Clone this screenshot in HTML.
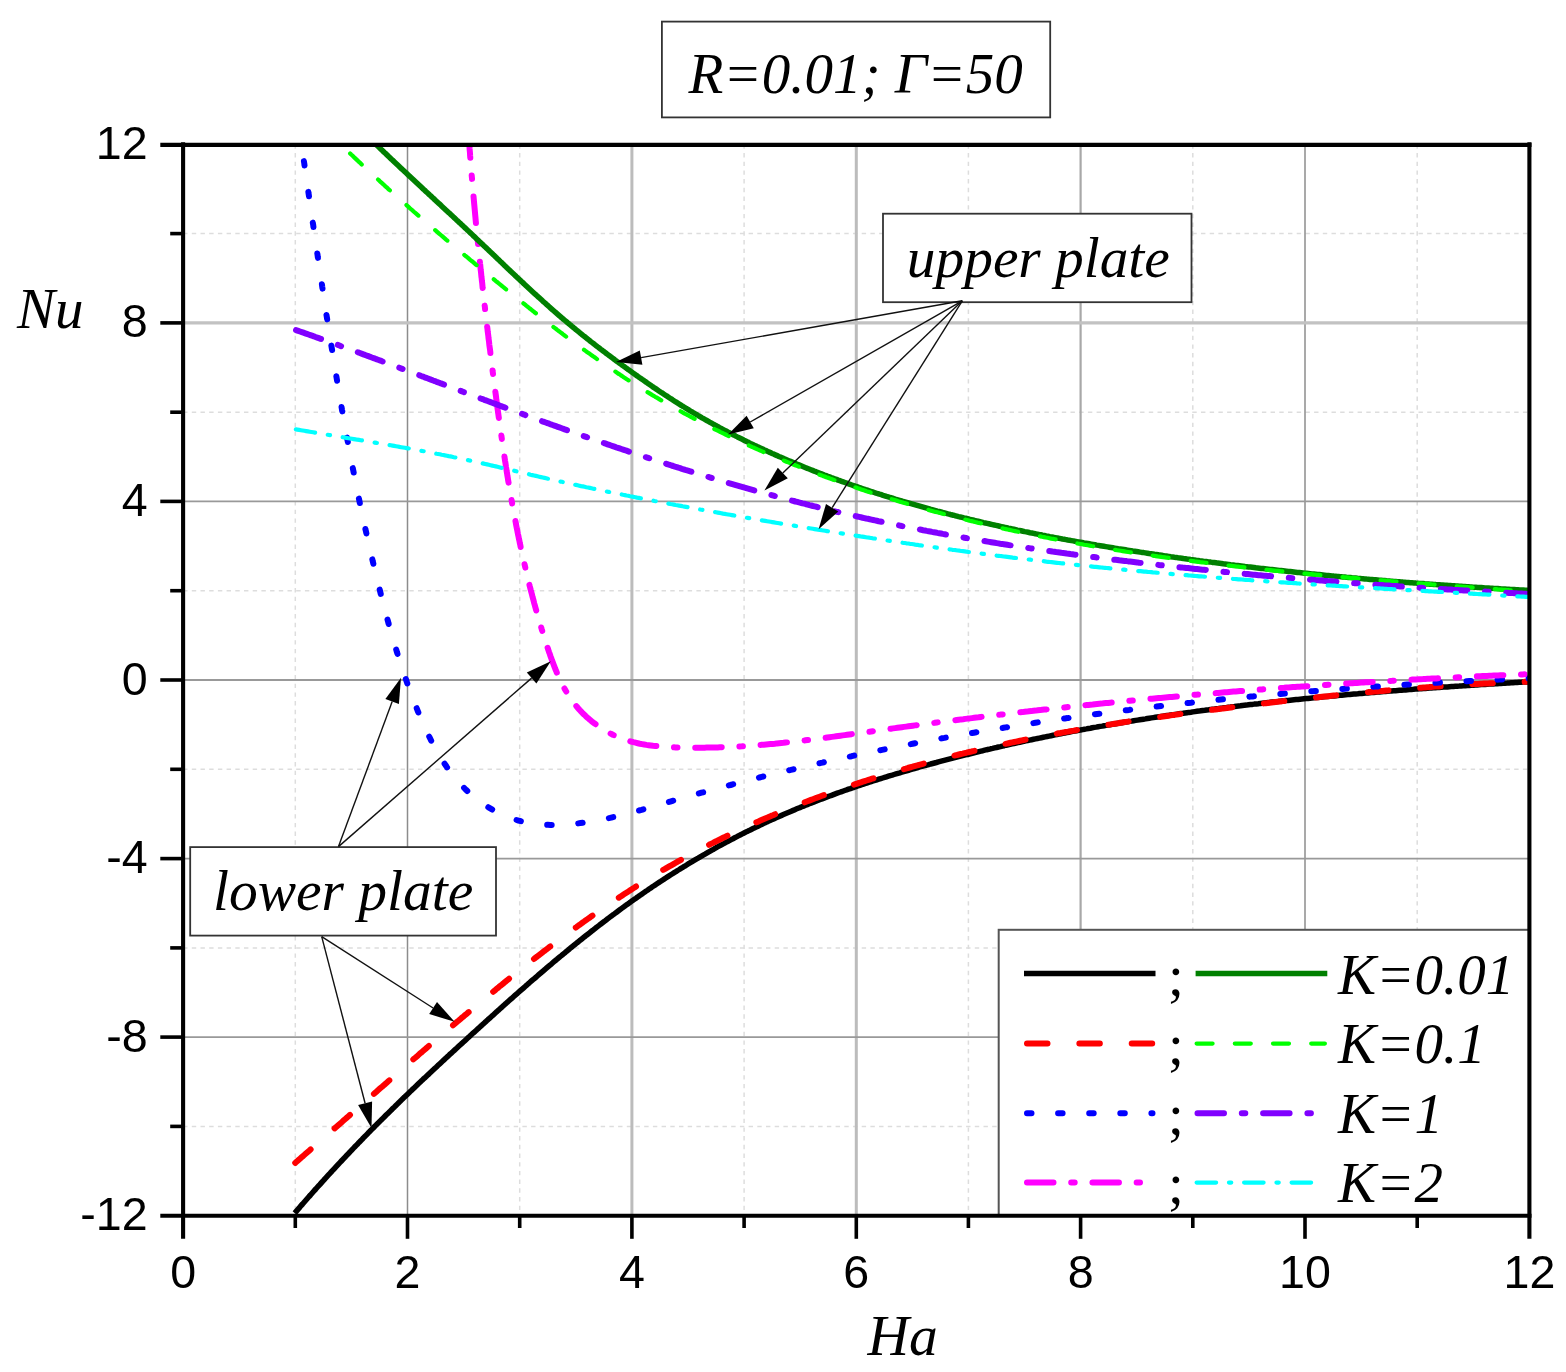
<!DOCTYPE html><html><head><meta charset="utf-8"><title>Nu vs Ha</title><style>html,body{margin:0;padding:0;background:#fff}svg{display:block}text{font-family:"Liberation Sans",sans-serif;fill:#000}.it{font-family:"Liberation Serif",serif;font-style:italic}.rm{font-family:"Liberation Serif",serif}</style></head><body>
<svg width="1566" height="1372" viewBox="0 0 1566 1372">
<rect width="100%" height="100%" fill="#fff"/>
<g stroke="#dddddd" stroke-width="1.5" stroke-dasharray="4.4 4.3"><line x1="295.3" y1="144.3" x2="295.3" y2="1215.7"/><line x1="519.7" y1="144.3" x2="519.7" y2="1215.7"/><line x1="744.1" y1="144.3" x2="744.1" y2="1215.7"/><line x1="968.4" y1="144.3" x2="968.4" y2="1215.7"/><line x1="1192.8" y1="144.3" x2="1192.8" y2="1215.7"/><line x1="1417.2" y1="144.3" x2="1417.2" y2="1215.7"/><line x1="183.1" y1="1126.4" x2="1529.4" y2="1126.4"/><line x1="183.1" y1="947.9" x2="1529.4" y2="947.9"/><line x1="183.1" y1="769.3" x2="1529.4" y2="769.3"/><line x1="183.1" y1="590.7" x2="1529.4" y2="590.7"/><line x1="183.1" y1="412.2" x2="1529.4" y2="412.2"/><line x1="183.1" y1="233.6" x2="1529.4" y2="233.6"/></g>
<g><line x1="407.5" y1="144.3" x2="407.5" y2="1215.7" stroke="#8c8c8c" stroke-width="1.5"/><line x1="631.9" y1="144.3" x2="631.9" y2="1215.7" stroke="#bcbcbc" stroke-width="3.0"/><line x1="856.3" y1="144.3" x2="856.3" y2="1215.7" stroke="#bcbcbc" stroke-width="3.0"/><line x1="1080.6" y1="144.3" x2="1080.6" y2="1215.7" stroke="#a8a8a8" stroke-width="2.2"/><line x1="1305.0" y1="144.3" x2="1305.0" y2="1215.7" stroke="#8c8c8c" stroke-width="1.5"/><line x1="183.1" y1="1037.1" x2="1529.4" y2="1037.1" stroke="#999" stroke-width="1.8"/><line x1="183.1" y1="858.6" x2="1529.4" y2="858.6" stroke="#999" stroke-width="1.8"/><line x1="183.1" y1="680.0" x2="1529.4" y2="680.0" stroke="#999" stroke-width="1.8"/><line x1="183.1" y1="501.4" x2="1529.4" y2="501.4" stroke="#999" stroke-width="1.8"/><line x1="183.1" y1="322.9" x2="1529.4" y2="322.9" stroke="#c2c2c2" stroke-width="3.4"/></g>
<clipPath id="pc"><rect x="183.1" y="144.3" width="1346.3" height="1071.4"/></clipPath>
<g fill="none" stroke-linejoin="round" clip-path="url(#pc)">
<path d="M294.7,1213.1 L296.0,1211.6 L297.3,1210.1 L298.6,1208.6 L299.9,1207.1 L301.2,1205.5 L302.6,1204.0 L303.9,1202.5 L305.2,1201.0 L306.5,1199.5 L307.8,1198.0 L309.1,1196.5 L310.5,1195.0 L311.8,1193.5 L313.1,1192.0 L314.4,1190.5 L315.8,1189.0 L317.1,1187.5 L318.4,1186.0 L319.8,1184.6 L321.1,1183.1 L322.4,1181.6 L323.8,1180.1 L325.1,1178.6 L326.5,1177.1 L327.8,1175.7 L329.2,1174.2 L330.5,1172.7 L331.9,1171.3 L333.2,1169.8 L334.6,1168.3 L335.9,1166.9 L337.3,1165.4 L338.7,1163.9 L340.0,1162.5 L341.4,1161.0 L342.7,1159.6 L344.1,1158.1 L345.5,1156.7 L346.9,1155.2 L348.2,1153.8 L349.6,1152.3 L351.0,1150.9 L352.4,1149.4 L353.7,1148.0 L355.1,1146.5 L356.5,1145.1 L357.9,1143.7 L359.3,1142.2 L360.7,1140.8 L362.1,1139.4 L363.4,1137.9 L364.8,1136.5 L366.2,1135.1 L367.6,1133.7 L369.0,1132.2 L370.4,1130.8 L371.8,1129.4 L373.2,1128.0 L374.6,1126.5 L376.0,1125.1 L377.4,1123.7 L378.9,1122.3 L380.3,1120.9 L381.7,1119.5 L383.1,1118.1 L384.5,1116.7 L385.9,1115.3 L387.3,1113.9 L388.8,1112.5 L390.2,1111.1 L391.6,1109.7 L393.0,1108.3 L394.5,1106.9 L395.9,1105.5 L397.3,1104.1 L398.7,1102.7 L400.2,1101.3 L401.6,1099.9 L403.0,1098.5 L404.5,1097.1 L405.9,1095.7 L407.3,1094.4 L408.8,1093.0 L410.2,1091.6 L411.7,1090.2 L413.1,1088.8 L414.6,1087.5 L416.0,1086.1 L417.4,1084.7 L418.9,1083.3 L420.3,1082.0 L421.8,1080.6 L423.2,1079.2 L424.7,1077.9 L426.2,1076.5 L427.6,1075.1 L429.1,1073.8 L430.5,1072.4 L432.0,1071.0 L433.4,1069.7 L434.9,1068.3 L436.4,1067.0 L437.8,1065.6 L439.3,1064.2 L440.7,1062.9 L442.2,1061.5 L443.7,1060.2 L445.1,1058.8 L446.6,1057.4 L448.1,1056.1 L449.5,1054.7 L451.0,1053.4 L452.5,1052.0 L454.0,1050.7 L455.4,1049.3 L456.9,1048.0 L458.4,1046.6 L459.8,1045.3 L461.3,1043.9 L462.8,1042.6 L464.3,1041.2 L465.7,1039.9 L467.2,1038.5 L468.7,1037.2 L470.2,1035.8 L471.6,1034.5 L473.1,1033.1 L474.6,1031.8 L476.1,1030.5 L477.5,1029.1 L479.0,1027.8 L480.5,1026.4 L482.0,1025.1 L483.5,1023.7 L484.9,1022.4 L486.4,1021.1 L487.9,1019.7 L489.4,1018.4 L490.9,1017.0 L492.4,1015.7 L493.8,1014.4 L495.3,1013.0 L496.8,1011.7 L498.3,1010.3 L499.8,1009.0 L501.3,1007.7 L502.8,1006.3 L504.2,1005.0 L505.7,1003.7 L507.2,1002.3 L508.7,1001.0 L510.2,999.7 L511.7,998.4 L513.2,997.0 L514.7,995.7 L516.2,994.4 L517.7,993.1 L519.2,991.7 L520.7,990.4 L522.2,989.1 L523.7,987.8 L525.2,986.5 L526.7,985.2 L528.2,983.8 L529.7,982.5 L531.2,981.2 L532.7,979.9 L534.3,978.6 L535.8,977.3 L537.3,976.0 L538.8,974.7 L540.3,973.4 L541.8,972.1 L543.3,970.8 L544.9,969.5 L546.4,968.2 L547.9,966.9 L549.4,965.6 L551.0,964.3 L552.5,963.0 L554.0,961.7 L555.5,960.5 L557.1,959.2 L558.6,957.9 L560.1,956.6 L561.7,955.4 L563.2,954.1 L564.8,952.8 L566.3,951.5 L567.8,950.3 L569.4,949.0 L570.9,947.7 L572.5,946.5 L574.0,945.2 L575.6,944.0 L577.1,942.7 L578.7,941.5 L580.2,940.2 L581.8,939.0 L583.4,937.7 L584.9,936.5 L586.5,935.2 L588.1,934.0 L589.6,932.8 L591.2,931.5 L592.8,930.3 L594.3,929.1 L595.9,927.8 L597.5,926.6 L599.1,925.4 L600.6,924.2 L602.2,923.0 L603.8,921.8 L605.4,920.6 L607.0,919.3 L608.6,918.1 L610.2,916.9 L611.8,915.7 L613.4,914.6 L615.0,913.4 L616.6,912.2 L618.2,911.0 L619.8,909.8 L621.4,908.6 L623.0,907.4 L624.6,906.3 L626.2,905.1 L627.9,903.9 L629.5,902.8 L631.1,901.6 L632.7,900.5 L634.4,899.3 L636.0,898.2 L637.6,897.0 L639.3,895.9 L640.9,894.7 L642.6,893.6 L644.2,892.4 L645.8,891.3 L647.5,890.2 L649.1,889.1 L650.8,887.9 L652.4,886.8 L654.1,885.7 L655.8,884.6 L657.4,883.5 L659.1,882.4 L660.8,881.3 L662.4,880.2 L664.1,879.1 L665.8,878.0 L667.5,876.9 L669.1,875.9 L670.8,874.8 L672.5,873.7 L674.2,872.6 L675.9,871.6 L677.6,870.5 L679.3,869.5 L681.0,868.4 L682.7,867.4 L684.4,866.3 L686.1,865.3 L687.8,864.2 L689.5,863.2 L691.2,862.2 L692.9,861.1 L694.6,860.1 L696.3,859.1 L698.1,858.1 L699.8,857.1 L701.5,856.1 L703.2,855.1 L705.0,854.1 L706.7,853.1 L708.4,852.1 L710.2,851.1 L711.9,850.1 L713.7,849.2 L715.4,848.2 L717.1,847.2 L718.9,846.2 L720.6,845.3 L722.4,844.3 L724.2,843.4 L725.9,842.4 L727.7,841.5 L729.4,840.6 L731.2,839.6 L733.0,838.7 L734.7,837.8 L736.5,836.9 L738.3,835.9 L740.1,835.0 L741.8,834.1 L743.6,833.2 L745.4,832.3 L747.2,831.4 L749.0,830.6 L750.8,829.7 L752.6,828.8 L754.4,827.9 L756.2,827.1 L758.0,826.2 L759.8,825.3 L761.6,824.5 L763.4,823.6 L765.2,822.8 L767.0,821.9 L768.8,821.1 L770.6,820.3 L772.4,819.4 L774.3,818.6 L776.1,817.8 L777.9,817.0 L779.7,816.2 L781.6,815.4 L783.4,814.6 L785.2,813.8 L787.0,813.0 L788.9,812.2 L790.7,811.4 L792.6,810.6 L794.4,809.9 L796.2,809.1 L798.1,808.3 L799.9,807.6 L801.8,806.8 L803.6,806.1 L805.5,805.3 L807.3,804.6 L809.2,803.8 L811.0,803.1 L812.9,802.4 L814.8,801.6 L816.6,800.9 L818.5,800.2 L820.3,799.5 L822.2,798.8 L824.1,798.1 L825.9,797.4 L827.8,796.7 L829.7,796.0 L831.6,795.3 L833.4,794.6 L835.3,793.9 L837.2,793.2 L839.1,792.5 L841.0,791.9 L842.8,791.2 L844.7,790.5 L846.6,789.9 L848.5,789.2 L850.4,788.6 L852.3,787.9 L854.2,787.3 L856.0,786.6 L857.9,786.0 L859.8,785.4 L861.7,784.7 L863.6,784.1 L865.5,783.5 L867.4,782.8 L869.3,782.2 L871.2,781.6 L873.1,781.0 L875.0,780.4 L876.9,779.8 L878.8,779.2 L880.8,778.6 L882.7,778.0 L884.6,777.4 L886.5,776.8 L888.4,776.2 L890.3,775.6 L892.2,775.1 L894.1,774.5 L896.0,773.9 L898.0,773.3 L899.9,772.8 L901.8,772.2 L903.7,771.6 L905.6,771.1 L907.6,770.5 L909.5,770.0 L911.4,769.4 L913.3,768.9 L915.2,768.3 L917.2,767.8 L919.1,767.2 L921.0,766.7 L922.9,766.1 L924.9,765.6 L926.8,765.1 L928.7,764.6 L930.6,764.0 L932.6,763.5 L934.5,763.0 L936.4,762.5 L938.4,761.9 L940.3,761.4 L942.2,760.9 L944.2,760.4 L946.1,759.9 L948.0,759.4 L950.0,758.9 L951.9,758.4 L953.8,757.9 L955.8,757.4 L957.7,756.9 L959.6,756.4 L961.6,755.9 L963.5,755.4 L965.4,754.9 L967.4,754.5 L969.3,754.0 L971.3,753.5 L973.2,753.0 L975.1,752.5 L977.1,752.1 L979.0,751.6 L981.0,751.1 L982.9,750.7 L984.8,750.2 L986.8,749.7 L988.7,749.3 L990.7,748.8 L992.6,748.4 L994.6,747.9 L996.5,747.5 L998.5,747.0 L1000.4,746.6 L1002.4,746.1 L1004.3,745.7 L1006.2,745.2 L1008.2,744.8 L1010.1,744.4 L1012.1,743.9 L1014.0,743.5 L1016.0,743.1 L1017.9,742.6 L1019.9,742.2 L1021.8,741.8 L1023.8,741.4 L1025.7,740.9 L1027.7,740.5 L1029.6,740.1 L1031.6,739.7 L1033.5,739.3 L1035.5,738.9 L1037.5,738.5 L1039.4,738.1 L1041.4,737.7 L1043.3,737.3 L1045.3,736.9 L1047.2,736.5 L1049.2,736.1 L1051.1,735.7 L1053.1,735.3 L1055.1,734.9 L1057.0,734.5 L1059.0,734.1 L1060.9,733.7 L1062.9,733.3 L1064.8,733.0 L1066.8,732.6 L1068.8,732.2 L1070.7,731.8 L1072.7,731.4 L1074.7,731.1 L1076.6,730.7 L1078.6,730.3 L1080.5,730.0 L1082.5,729.6 L1084.5,729.2 L1086.4,728.9 L1088.4,728.5 L1090.4,728.2 L1092.3,727.8 L1094.3,727.4 L1096.2,727.1 L1098.2,726.7 L1100.2,726.4 L1102.1,726.1 L1104.1,725.7 L1106.1,725.4 L1108.0,725.0 L1110.0,724.7 L1112.0,724.3 L1113.9,724.0 L1115.9,723.7 L1117.9,723.3 L1119.8,723.0 L1121.8,722.7 L1123.8,722.3 L1125.8,722.0 L1127.7,721.7 L1129.7,721.4 L1131.7,721.1 L1133.6,720.7 L1135.6,720.4 L1137.6,720.1 L1139.6,719.8 L1141.5,719.5 L1143.5,719.2 L1145.5,718.9 L1147.4,718.5 L1149.4,718.2 L1151.4,717.9 L1153.4,717.6 L1155.3,717.3 L1157.3,717.0 L1159.3,716.7 L1161.3,716.4 L1163.2,716.1 L1165.2,715.8 L1167.2,715.5 L1169.2,715.3 L1171.1,715.0 L1173.1,714.7 L1175.1,714.4 L1177.1,714.1 L1179.0,713.8 L1181.0,713.5 L1183.0,713.3 L1185.0,713.0 L1187.0,712.7 L1188.9,712.4 L1190.9,712.2 L1192.9,711.9 L1194.9,711.6 L1196.9,711.3 L1198.8,711.1 L1200.8,710.8 L1202.8,710.5 L1204.8,710.3 L1206.8,710.0 L1208.7,709.8 L1210.7,709.5 L1212.7,709.2 L1214.7,709.0 L1216.7,708.7 L1218.6,708.5 L1220.6,708.2 L1222.6,708.0 L1224.6,707.7 L1226.6,707.5 L1228.6,707.2 L1230.5,707.0 L1232.5,706.7 L1234.5,706.5 L1236.5,706.2 L1238.5,706.0 L1240.5,705.8 L1242.4,705.5 L1244.4,705.3 L1246.4,705.1 L1248.4,704.8 L1250.4,704.6 L1252.4,704.4 L1254.3,704.1 L1256.3,703.9 L1258.3,703.7 L1260.3,703.4 L1262.3,703.2 L1264.3,703.0 L1266.3,702.8 L1268.2,702.6 L1270.2,702.3 L1272.2,702.1 L1274.2,701.9 L1276.2,701.7 L1278.2,701.5 L1280.2,701.2 L1282.2,701.0 L1284.1,700.8 L1286.1,700.6 L1288.1,700.4 L1290.1,700.2 L1292.1,700.0 L1294.1,699.8 L1296.1,699.6 L1298.1,699.4 L1300.0,699.2 L1302.0,699.0 L1304.0,698.8 L1306.0,698.6 L1308.0,698.4 L1310.0,698.2 L1312.0,698.0 L1314.0,697.8 L1316.0,697.6 L1317.9,697.4 L1319.9,697.2 L1321.9,697.0 L1323.9,696.8 L1325.9,696.6 L1327.9,696.4 L1329.9,696.3 L1331.9,696.1 L1333.9,695.9 L1335.9,695.7 L1337.8,695.5 L1339.8,695.3 L1341.8,695.2 L1343.8,695.0 L1345.8,694.8 L1347.8,694.6 L1349.8,694.5 L1351.8,694.3 L1353.8,694.1 L1355.8,693.9 L1357.8,693.8 L1359.7,693.6 L1361.7,693.4 L1363.7,693.2 L1365.7,693.1 L1367.7,692.9 L1369.7,692.7 L1371.7,692.6 L1373.7,692.4 L1375.7,692.2 L1377.7,692.1 L1379.7,691.9 L1381.7,691.8 L1383.6,691.6 L1385.6,691.4 L1387.6,691.3 L1389.6,691.1 L1391.6,691.0 L1393.6,690.8 L1395.6,690.7 L1397.6,690.5 L1399.6,690.3 L1401.6,690.2 L1403.6,690.0 L1405.6,689.9 L1407.5,689.7 L1409.5,689.6 L1411.5,689.4 L1413.5,689.3 L1415.5,689.1 L1417.5,689.0 L1419.5,688.8 L1421.5,688.7 L1423.5,688.6 L1425.5,688.4 L1427.5,688.3 L1429.5,688.1 L1431.5,688.0 L1433.4,687.8 L1435.4,687.7 L1437.4,687.6 L1439.4,687.4 L1441.4,687.3 L1443.4,687.1 L1445.4,687.0 L1447.4,686.9 L1449.4,686.7 L1451.4,686.6 L1453.4,686.5 L1455.4,686.3 L1457.3,686.2 L1459.3,686.1 L1461.3,685.9 L1463.3,685.8 L1465.3,685.7 L1467.3,685.5 L1469.3,685.4 L1471.3,685.3 L1473.3,685.2 L1475.3,685.0 L1477.3,684.9 L1479.2,684.8 L1481.2,684.6 L1483.2,684.5 L1485.2,684.4 L1487.2,684.3 L1489.2,684.1 L1491.2,684.0 L1493.2,683.9 L1495.2,683.8 L1497.2,683.7 L1499.2,683.5 L1501.1,683.4 L1503.1,683.3 L1505.1,683.2 L1507.1,683.1 L1509.1,682.9 L1511.1,682.8 L1513.1,682.7 L1515.1,682.6 L1517.1,682.5 L1519.1,682.3 L1521.0,682.2 L1523.0,682.1 L1525.0,682.0 L1527.0,681.9 L1529.0,681.8" stroke="#000" stroke-width="5.5"/>
<path d="M292.9,1164.8 L294.4,1163.6 L295.9,1162.3 L297.4,1161.0 L298.8,1159.7 L300.3,1158.4 L301.8,1157.1 L303.3,1155.9 L304.7,1154.6 L306.2,1153.3 L307.7,1152.0 L309.2,1150.7 L310.6,1149.4 L312.1,1148.1 L313.6,1146.9 L315.0,1145.6 L316.5,1144.3 L318.0,1143.0 L319.4,1141.7 L320.9,1140.4 L322.4,1139.1 L323.9,1137.8 L325.3,1136.6 L326.8,1135.3 L328.3,1134.0 L329.7,1132.7 L331.2,1131.4 L332.7,1130.1 L334.1,1128.8 L335.6,1127.5 L337.1,1126.2 L338.5,1125.0 L340.0,1123.7 L341.5,1122.4 L342.9,1121.1 L344.4,1119.8 L345.9,1118.5 L347.3,1117.2 L348.8,1115.9 L350.3,1114.6 L351.7,1113.3 L353.2,1112.1 L354.7,1110.8 L356.2,1109.5 L357.6,1108.2 L359.1,1106.9 L360.6,1105.6 L362.0,1104.3 L363.5,1103.0 L365.0,1101.7 L366.4,1100.4 L367.9,1099.1 L369.4,1097.9 L370.8,1096.6 L372.3,1095.3 L373.8,1094.0 L375.2,1092.7 L376.7,1091.4 L378.2,1090.1 L379.6,1088.8 L381.1,1087.5 L382.6,1086.3 L384.1,1085.0 L385.5,1083.7 L387.0,1082.4 L388.5,1081.1 L389.9,1079.8 L391.4,1078.5 L392.9,1077.2 L394.4,1076.0 L395.8,1074.7 L397.3,1073.4 L398.8,1072.1 L400.2,1070.8 L401.7,1069.5 L403.2,1068.2 L404.7,1066.9 L406.1,1065.7 L407.6,1064.4 L409.1,1063.1 L410.6,1061.8 L412.1,1060.5 L413.5,1059.2 L415.0,1058.0 L416.5,1056.7 L418.0,1055.4 L419.4,1054.1 L420.9,1052.8 L422.4,1051.6 L423.9,1050.3 L425.4,1049.0 L426.8,1047.7 L428.3,1046.4 L429.8,1045.2 L431.3,1043.9 L432.8,1042.6 L434.3,1041.3 L435.7,1040.1 L437.2,1038.8 L438.7,1037.5 L440.2,1036.2 L441.7,1035.0 L443.2,1033.7 L444.7,1032.4 L446.2,1031.1 L447.7,1029.9 L449.1,1028.6 L450.6,1027.3 L452.1,1026.1 L453.6,1024.8 L455.1,1023.5 L456.6,1022.2 L458.1,1021.0 L459.6,1019.7 L461.1,1018.4 L462.6,1017.2 L464.1,1015.9 L465.6,1014.7 L467.1,1013.4 L468.6,1012.1 L470.1,1010.9 L471.6,1009.6 L473.1,1008.3 L474.6,1007.1 L476.1,1005.8 L477.6,1004.6 L479.1,1003.3 L480.6,1002.1 L482.2,1000.8 L483.7,999.6 L485.2,998.3 L486.7,997.0 L488.2,995.8 L489.7,994.5 L491.2,993.3 L492.7,992.1 L494.3,990.8 L495.8,989.6 L497.3,988.3 L498.8,987.1 L500.3,985.8 L501.9,984.6 L503.4,983.4 L504.9,982.1 L506.4,980.9 L508.0,979.7 L509.5,978.4 L511.0,977.2 L512.6,976.0 L514.1,974.7 L515.6,973.5 L517.1,972.3 L518.7,971.1 L520.2,969.8 L521.8,968.6 L523.3,967.4 L524.8,966.2 L526.4,965.0 L527.9,963.7 L529.5,962.5 L531.0,961.3 L532.6,960.1 L534.1,958.9 L535.6,957.7 L537.2,956.5 L538.7,955.3 L540.3,954.1 L541.9,952.9 L543.4,951.7 L545.0,950.5 L546.5,949.3 L548.1,948.1 L549.6,946.9 L551.2,945.8 L552.8,944.6 L554.3,943.4 L555.9,942.2 L557.5,941.0 L559.0,939.9 L560.6,938.7 L562.2,937.5 L563.8,936.3 L565.3,935.2 L566.9,934.0 L568.5,932.9 L570.1,931.7 L571.6,930.5 L573.2,929.4 L574.8,928.2 L576.4,927.1 L578.0,925.9 L579.6,924.8 L581.2,923.6 L582.7,922.5 L584.3,921.4 L585.9,920.2 L587.5,919.1 L589.1,918.0 L590.7,916.8 L592.3,915.7 L593.9,914.6 L595.5,913.5 L597.1,912.4 L598.8,911.2 L600.4,910.1 L602.0,909.0 L603.6,907.9 L605.2,906.8 L606.8,905.7 L608.4,904.6 L610.1,903.5 L611.7,902.4 L613.3,901.3 L614.9,900.2 L616.6,899.2 L618.2,898.1 L619.8,897.0 L621.5,895.9 L623.1,894.9 L624.7,893.8 L626.4,892.7 L628.0,891.7 L629.6,890.6 L631.3,889.6 L632.9,888.5 L634.6,887.5 L636.2,886.4 L637.9,885.4 L639.5,884.3 L641.2,883.3 L642.9,882.3 L644.5,881.2 L646.2,880.2 L647.8,879.2 L649.5,878.2 L651.2,877.2 L652.8,876.1 L654.5,875.1 L656.2,874.1 L657.9,873.1 L659.5,872.1 L661.2,871.1 L662.9,870.1 L664.6,869.2 L666.3,868.2 L668.0,867.2 L669.7,866.2 L671.3,865.3 L673.0,864.3 L674.7,863.3 L676.4,862.4 L678.1,861.4 L679.8,860.5 L681.5,859.5 L683.3,858.6 L685.0,857.6 L686.7,856.7 L688.4,855.7 L690.1,854.8 L691.8,853.9 L693.5,853.0 L695.3,852.0 L697.0,851.1 L698.7,850.2 L700.4,849.3 L702.2,848.4 L703.9,847.5 L705.6,846.6 L707.4,845.7 L709.1,844.8 L710.9,843.9 L712.6,843.1 L714.3,842.2 L716.1,841.3 L717.8,840.4 L719.6,839.6 L721.3,838.7 L723.1,837.8 L724.8,837.0 L726.6,836.1 L728.4,835.3 L730.1,834.4 L731.9,833.6 L733.6,832.8 L735.4,831.9 L737.2,831.1 L738.9,830.3 L740.7,829.4 L742.5,828.6 L744.3,827.8 L746.0,827.0 L747.8,826.2 L749.6,825.4 L751.4,824.6 L753.2,823.8 L754.9,823.0 L756.7,822.2 L758.5,821.4 L760.3,820.6 L762.1,819.8 L763.9,819.0 L765.7,818.2 L767.5,817.5 L769.3,816.7 L771.1,815.9 L772.9,815.2 L774.7,814.4 L776.5,813.7 L778.3,812.9 L780.1,812.1 L781.9,811.4 L783.7,810.7 L785.5,809.9 L787.3,809.2 L789.2,808.4 L791.0,807.7 L792.8,807.0 L794.6,806.3 L796.4,805.5 L798.2,804.8 L800.1,804.1 L801.9,803.4 L803.7,802.7 L805.5,802.0 L807.4,801.3 L809.2,800.6 L811.0,799.9 L812.9,799.2 L814.7,798.5 L816.5,797.8 L818.4,797.2 L820.2,796.5 L822.0,795.8 L823.9,795.1 L825.7,794.5 L827.6,793.8 L829.4,793.1 L831.3,792.5 L833.1,791.8 L834.9,791.2 L836.8,790.5 L838.6,789.9 L840.5,789.2 L842.3,788.6 L844.2,787.9 L846.1,787.3 L847.9,786.7 L849.8,786.0 L851.6,785.4 L853.5,784.8 L855.3,784.2 L857.2,783.6 L859.1,782.9 L860.9,782.3 L862.8,781.7 L864.6,781.1 L866.5,780.5 L868.4,779.9 L870.2,779.3 L872.1,778.7 L874.0,778.1 L875.8,777.6 L877.7,777.0 L879.6,776.4 L881.5,775.8 L883.3,775.2 L885.2,774.7 L887.1,774.1 L889.0,773.5 L890.8,773.0 L892.7,772.4 L894.6,771.8 L896.5,771.3 L898.3,770.7 L900.2,770.2 L902.1,769.6 L904.0,769.1 L905.9,768.6 L907.8,768.0 L909.6,767.5 L911.5,767.0 L913.4,766.4 L915.3,765.9 L917.2,765.4 L919.1,764.8 L921.0,764.3 L922.9,763.8 L924.7,763.3 L926.6,762.8 L928.5,762.3 L930.4,761.8 L932.3,761.3 L934.2,760.8 L936.1,760.3 L938.0,759.8 L939.9,759.3 L941.8,758.8 L943.7,758.3 L945.6,757.8 L947.5,757.3 L949.4,756.9 L951.3,756.4 L953.2,755.9 L955.1,755.4 L957.0,755.0 L958.9,754.5 L960.8,754.0 L962.7,753.6 L964.6,753.1 L966.5,752.7 L968.4,752.2 L970.3,751.8 L972.2,751.3 L974.1,750.9 L976.0,750.4 L977.9,750.0 L979.8,749.5 L981.7,749.1 L983.6,748.7 L985.5,748.2 L987.4,747.8 L989.4,747.4 L991.3,746.9 L993.2,746.5 L995.1,746.1 L997.0,745.7 L998.9,745.2 L1000.8,744.8 L1002.7,744.4 L1004.6,744.0 L1006.6,743.6 L1008.5,743.2 L1010.4,742.8 L1012.3,742.4 L1014.2,742.0 L1016.1,741.6 L1018.1,741.2 L1020.0,740.8 L1021.9,740.4 L1023.8,740.0 L1025.7,739.6 L1027.6,739.2 L1029.6,738.9 L1031.5,738.5 L1033.4,738.1 L1035.3,737.7 L1037.3,737.3 L1039.2,737.0 L1041.1,736.6 L1043.0,736.2 L1044.9,735.9 L1046.9,735.5 L1048.8,735.1 L1050.7,734.8 L1052.6,734.4 L1054.6,734.0 L1056.5,733.7 L1058.4,733.3 L1060.3,733.0 L1062.3,732.6 L1064.2,732.3 L1066.1,731.9 L1068.0,731.6 L1070.0,731.2 L1071.9,730.9 L1073.8,730.6 L1075.8,730.2 L1077.7,729.9 L1079.6,729.5 L1081.5,729.2 L1083.5,728.9 L1085.4,728.5 L1087.3,728.2 L1089.3,727.9 L1091.2,727.6 L1093.1,727.2 L1095.1,726.9 L1097.0,726.6 L1098.9,726.3 L1100.9,725.9 L1102.8,725.6 L1104.7,725.3 L1106.7,725.0 L1108.6,724.7 L1110.5,724.4 L1112.5,724.1 L1114.4,723.8 L1116.3,723.5 L1118.3,723.2 L1120.2,722.8 L1122.1,722.5 L1124.1,722.2 L1126.0,721.9 L1128.0,721.6 L1129.9,721.3 L1131.8,721.1 L1133.8,720.8 L1135.7,720.5 L1137.6,720.2 L1139.6,719.9 L1141.5,719.6 L1143.4,719.3 L1145.4,719.0 L1147.3,718.7 L1149.3,718.5 L1151.2,718.2 L1153.1,717.9 L1155.1,717.6 L1157.0,717.3 L1159.0,717.1 L1160.9,716.8 L1162.8,716.5 L1164.8,716.2 L1166.7,716.0 L1168.7,715.7 L1170.6,715.4 L1172.5,715.1 L1174.5,714.9 L1176.4,714.6 L1178.4,714.3 L1180.3,714.1 L1182.2,713.8 L1184.2,713.5 L1186.1,713.3 L1188.1,713.0 L1190.0,712.8 L1191.9,712.5 L1193.9,712.2 L1195.8,712.0 L1197.8,711.7 L1199.7,711.5 L1201.7,711.2 L1203.6,711.0 L1205.5,710.7 L1207.5,710.4 L1209.4,710.2 L1211.4,709.9 L1213.3,709.7 L1215.2,709.4 L1217.2,709.2 L1219.1,708.9 L1221.1,708.7 L1223.0,708.4 L1225.0,708.2 L1226.9,708.0 L1228.8,707.7 L1230.8,707.5 L1232.7,707.2 L1234.7,707.0 L1236.6,706.7 L1238.6,706.5 L1240.5,706.3 L1242.4,706.0 L1244.4,705.8 L1246.3,705.5 L1248.3,705.3 L1250.2,705.1 L1252.1,704.8 L1254.1,704.6 L1256.0,704.4 L1258.0,704.1 L1259.9,703.9 L1261.9,703.7 L1263.8,703.4 L1265.7,703.2 L1267.7,703.0 L1269.6,702.7 L1271.6,702.5 L1273.5,702.3 L1275.5,702.0 L1277.4,701.8 L1279.3,701.6 L1281.3,701.4 L1283.2,701.1 L1285.2,700.9 L1287.1,700.7 L1289.0,700.5 L1291.0,700.2 L1292.9,700.0 L1294.9,699.8 L1296.8,699.6 L1298.8,699.4 L1300.7,699.2 L1302.6,698.9 L1304.6,698.7 L1306.5,698.5 L1308.5,698.3 L1310.4,698.1 L1312.4,697.9 L1314.3,697.7 L1316.2,697.4 L1318.2,697.2 L1320.1,697.0 L1322.1,696.8 L1324.0,696.6 L1326.0,696.4 L1327.9,696.2 L1329.9,696.0 L1331.8,695.8 L1333.7,695.6 L1335.7,695.4 L1337.6,695.2 L1339.6,695.0 L1341.5,694.8 L1343.5,694.6 L1345.4,694.4 L1347.3,694.2 L1349.3,694.0 L1351.2,693.8 L1353.2,693.6 L1355.1,693.4 L1357.1,693.2 L1359.0,693.1 L1361.0,692.9 L1362.9,692.7 L1364.9,692.5 L1366.8,692.3 L1368.7,692.1 L1370.7,692.0 L1372.6,691.8 L1374.6,691.6 L1376.5,691.4 L1378.5,691.2 L1380.4,691.1 L1382.4,690.9 L1384.3,690.7 L1386.3,690.5 L1388.2,690.4 L1390.2,690.2 L1392.1,690.0 L1394.1,689.9 L1396.0,689.7 L1398.0,689.5 L1399.9,689.4 L1401.8,689.2 L1403.8,689.0 L1405.7,688.9 L1407.7,688.7 L1409.6,688.6 L1411.6,688.4 L1413.5,688.3 L1415.5,688.1 L1417.4,688.0 L1419.4,687.8 L1421.3,687.7 L1423.3,687.5 L1425.2,687.4 L1427.2,687.2 L1429.1,687.1 L1431.1,686.9 L1433.0,686.8 L1435.0,686.6 L1437.0,686.5 L1438.9,686.4 L1440.9,686.2 L1442.8,686.1 L1444.8,686.0 L1446.7,685.8 L1448.7,685.7 L1450.6,685.6 L1452.6,685.4 L1454.5,685.3 L1456.5,685.2 L1458.4,685.1 L1460.4,685.0 L1462.3,684.8 L1464.3,684.7 L1466.3,684.6 L1468.2,684.5 L1470.2,684.4 L1472.1,684.3 L1474.1,684.1 L1476.0,684.0 L1478.0,683.9 L1480.0,683.8 L1481.9,683.7 L1483.9,683.6 L1485.8,683.5 L1487.8,683.4 L1489.7,683.3 L1491.7,683.2 L1493.7,683.1 L1495.6,683.0 L1497.6,682.9 L1499.5,682.9 L1501.5,682.8 L1503.5,682.7 L1505.4,682.6 L1507.4,682.5 L1509.3,682.4 L1511.3,682.4 L1513.3,682.3 L1515.2,682.2 L1517.2,682.1 L1519.2,682.1 L1521.1,682.0 L1523.1,681.9 L1525.0,681.8 L1527.0,681.8 L1529.0,681.7" stroke="#ff0000" stroke-width="6.0" stroke-dasharray="20.5 31.85" stroke-linecap="round" stroke-dashoffset="-3"/>
<path d="M303.9,161.1 L304.3,163.6 L304.6,166.0 L305.0,168.5 L305.3,170.9 L305.7,173.4 L306.0,175.8 L306.4,178.3 L306.8,180.7 L307.1,183.2 L307.5,185.7 L307.8,188.1 L308.2,190.6 L308.5,193.0 L308.9,195.5 L309.2,198.0 L309.6,200.4 L310.0,202.9 L310.3,205.3 L310.7,207.8 L311.0,210.2 L311.4,212.7 L311.7,215.2 L312.1,217.6 L312.4,220.1 L312.8,222.6 L313.2,225.0 L313.5,227.5 L313.9,229.9 L314.2,232.4 L314.6,234.9 L315.0,237.3 L315.3,239.8 L315.7,242.3 L316.0,244.7 L316.4,247.2 L316.8,249.6 L317.1,252.1 L317.5,254.6 L317.8,257.0 L318.2,259.5 L318.6,262.0 L318.9,264.4 L319.3,266.9 L319.7,269.4 L320.0,271.8 L320.4,274.3 L320.8,276.8 L321.1,279.2 L321.5,281.7 L321.9,284.2 L322.2,286.6 L322.6,289.1 L323.0,291.6 L323.3,294.0 L323.7,296.5 L324.1,299.0 L324.5,301.4 L324.8,303.9 L325.2,306.4 L325.6,308.8 L326.0,311.3 L326.3,313.8 L326.7,316.2 L327.1,318.7 L327.5,321.2 L327.9,323.6 L328.3,326.1 L328.6,328.6 L329.0,331.0 L329.4,333.5 L329.8,335.9 L330.2,338.4 L330.6,340.9 L331.0,343.3 L331.4,345.8 L331.8,348.3 L332.2,350.7 L332.5,353.2 L332.9,355.7 L333.3,358.1 L333.7,360.6 L334.1,363.1 L334.5,365.5 L335.0,368.0 L335.4,370.4 L335.8,372.9 L336.2,375.4 L336.6,377.8 L337.0,380.3 L337.4,382.8 L337.8,385.2 L338.2,387.7 L338.7,390.1 L339.1,392.6 L339.5,395.1 L339.9,397.5 L340.3,400.0 L340.8,402.4 L341.2,404.9 L341.6,407.4 L342.0,409.8 L342.5,412.3 L342.9,414.7 L343.3,417.2 L343.8,419.6 L344.2,422.1 L344.7,424.5 L345.1,427.0 L345.5,429.5 L346.0,431.9 L346.4,434.4 L346.9,436.8 L347.3,439.3 L347.8,441.7 L348.2,444.2 L348.7,446.6 L349.2,449.1 L349.6,451.5 L350.1,454.0 L350.6,456.4 L351.0,458.9 L351.5,461.3 L352.0,463.8 L352.4,466.2 L352.9,468.7 L353.4,471.1 L353.9,473.6 L354.3,476.0 L354.8,478.4 L355.3,480.9 L355.8,483.3 L356.3,485.8 L356.8,488.2 L357.3,490.7 L357.8,493.1 L358.3,495.5 L358.8,498.0 L359.3,500.4 L359.8,502.9 L360.3,505.3 L360.8,507.7 L361.3,510.2 L361.8,512.6 L362.4,515.0 L362.9,517.5 L363.4,519.9 L363.9,522.3 L364.5,524.8 L365.0,527.2 L365.5,529.6 L366.1,532.0 L366.6,534.5 L367.2,536.9 L367.7,539.3 L368.2,541.8 L368.8,544.2 L369.3,546.6 L369.9,549.0 L370.5,551.4 L371.0,553.9 L371.6,556.3 L372.2,558.7 L372.7,561.1 L373.3,563.5 L373.9,566.0 L374.5,568.4 L375.0,570.8 L375.6,573.2 L376.2,575.6 L376.8,578.0 L377.4,580.4 L378.0,582.9 L378.6,585.3 L379.2,587.7 L379.8,590.1 L380.4,592.5 L381.0,594.9 L381.6,597.3 L382.2,599.7 L382.9,602.1 L383.5,604.5 L384.1,606.9 L384.7,609.3 L385.4,611.7 L386.0,614.1 L386.7,616.5 L387.3,618.9 L388.0,621.3 L388.6,623.7 L389.3,626.1 L390.0,628.4 L390.7,630.8 L391.3,633.2 L392.0,635.6 L392.7,638.0 L393.4,640.4 L394.1,642.8 L394.8,645.1 L395.6,647.5 L396.3,649.9 L397.0,652.3 L397.8,654.7 L398.5,657.0 L399.3,659.4 L400.0,661.8 L400.8,664.2 L401.6,666.5 L402.3,668.9 L403.1,671.3 L403.9,673.6 L404.7,676.0 L405.6,678.4 L406.4,680.7 L407.2,683.1 L408.1,685.4 L408.9,687.8 L409.8,690.2 L410.6,692.5 L411.5,694.9 L412.4,697.2 L413.3,699.6 L414.2,701.9 L415.1,704.3 L416.1,706.6 L417.0,709.0 L417.9,711.3 L418.9,713.7 L419.9,716.0 L420.9,718.3 L421.9,720.7 L422.9,723.0 L423.9,725.3 L424.9,727.6 L426.0,729.9 L427.1,732.2 L428.2,734.5 L429.3,736.8 L430.4,739.0 L431.5,741.3 L432.7,743.5 L433.9,745.7 L435.1,748.0 L436.3,750.1 L437.5,752.3 L438.8,754.5 L440.1,756.6 L441.4,758.8 L442.7,760.9 L444.1,763.0 L445.5,765.0 L446.9,767.1 L448.3,769.1 L449.8,771.1 L451.3,773.1 L452.8,775.1 L454.3,777.0 L455.9,778.9 L457.5,780.8 L459.1,782.6 L460.8,784.5 L462.5,786.3 L464.2,788.0 L466.0,789.8 L467.8,791.5 L469.6,793.1 L471.4,794.8 L473.3,796.4 L475.2,798.0 L477.2,799.5 L479.1,801.0 L481.1,802.4 L483.1,803.9 L485.2,805.3 L487.3,806.6 L489.4,807.9 L491.5,809.1 L493.6,810.4 L495.8,811.5 L498.0,812.7 L500.2,813.7 L502.4,814.8 L504.7,815.7 L506.9,816.7 L509.2,817.6 L511.5,818.4 L513.8,819.2 L516.2,819.9 L518.5,820.6 L520.9,821.2 L523.3,821.8 L525.7,822.3 L528.1,822.7 L530.6,823.1 L533.0,823.5 L535.5,823.8 L537.9,824.1 L540.4,824.3 L542.9,824.5 L545.4,824.7 L547.9,824.8 L550.4,824.9 L552.9,824.9 L555.4,824.9 L557.9,824.8 L560.4,824.8 L562.9,824.7 L565.4,824.5 L567.9,824.3 L570.4,824.1 L572.9,823.9 L575.4,823.7 L577.9,823.4 L580.4,823.1 L582.9,822.8 L585.4,822.4 L587.9,822.0 L590.4,821.7 L592.8,821.2 L595.3,820.8 L597.8,820.4 L600.2,819.9 L602.7,819.4 L605.1,818.9 L607.6,818.4 L610.0,817.9 L612.4,817.3 L614.9,816.8 L617.3,816.2 L619.7,815.6 L622.2,815.0 L624.6,814.4 L627.0,813.8 L629.4,813.1 L631.8,812.5 L634.2,811.8 L636.6,811.2 L639.0,810.5 L641.5,809.9 L643.9,809.2 L646.3,808.5 L648.7,807.8 L651.1,807.1 L653.5,806.4 L655.9,805.7 L658.3,805.0 L660.7,804.3 L663.1,803.6 L665.5,802.9 L667.9,802.3 L670.2,801.6 L672.6,800.9 L675.0,800.2 L677.4,799.5 L679.8,798.8 L682.2,798.1 L684.7,797.4 L687.1,796.8 L689.5,796.1 L691.9,795.4 L694.3,794.7 L696.7,794.1 L699.1,793.4 L701.5,792.7 L703.9,792.1 L706.3,791.4 L708.7,790.8 L711.1,790.1 L713.5,789.5 L715.9,788.8 L718.3,788.2 L720.7,787.5 L723.2,786.9 L725.6,786.2 L728.0,785.6 L730.4,785.0 L732.8,784.3 L735.2,783.7 L737.6,783.1 L740.0,782.5 L742.5,781.8 L744.9,781.2 L747.3,780.6 L749.7,780.0 L752.1,779.4 L754.5,778.8 L757.0,778.1 L759.4,777.5 L761.8,776.9 L764.2,776.3 L766.6,775.7 L769.0,775.1 L771.5,774.5 L773.9,773.9 L776.3,773.4 L778.7,772.8 L781.2,772.2 L783.6,771.6 L786.0,771.0 L788.4,770.4 L790.8,769.9 L793.3,769.3 L795.7,768.7 L798.1,768.1 L800.5,767.6 L803.0,767.0 L805.4,766.4 L807.8,765.9 L810.3,765.3 L812.7,764.8 L815.1,764.2 L817.5,763.7 L820.0,763.1 L822.4,762.6 L824.8,762.0 L827.3,761.5 L829.7,760.9 L832.1,760.4 L834.6,759.9 L837.0,759.3 L839.4,758.8 L841.9,758.3 L844.3,757.7 L846.7,757.2 L849.2,756.7 L851.6,756.2 L854.0,755.6 L856.5,755.1 L858.9,754.6 L861.3,754.1 L863.8,753.6 L866.2,753.1 L868.7,752.6 L871.1,752.1 L873.5,751.6 L876.0,751.1 L878.4,750.6 L880.9,750.1 L883.3,749.6 L885.7,749.1 L888.2,748.6 L890.6,748.1 L893.1,747.6 L895.5,747.1 L898.0,746.6 L900.4,746.2 L902.8,745.7 L905.3,745.2 L907.7,744.7 L910.2,744.3 L912.6,743.8 L915.1,743.3 L917.5,742.9 L920.0,742.4 L922.4,741.9 L924.9,741.5 L927.3,741.0 L929.8,740.6 L932.2,740.1 L934.6,739.7 L937.1,739.2 L939.5,738.8 L942.0,738.3 L944.4,737.9 L946.9,737.4 L949.4,737.0 L951.8,736.5 L954.3,736.1 L956.7,735.7 L959.2,735.2 L961.6,734.8 L964.1,734.4 L966.5,734.0 L969.0,733.5 L971.4,733.1 L973.9,732.7 L976.3,732.3 L978.8,731.9 L981.2,731.4 L983.7,731.0 L986.2,730.6 L988.6,730.2 L991.1,729.8 L993.5,729.4 L996.0,729.0 L998.4,728.6 L1000.9,728.2 L1003.4,727.8 L1005.8,727.4 L1008.3,727.0 L1010.7,726.6 L1013.2,726.2 L1015.7,725.8 L1018.1,725.4 L1020.6,725.1 L1023.0,724.7 L1025.5,724.3 L1028.0,723.9 L1030.4,723.5 L1032.9,723.2 L1035.4,722.8 L1037.8,722.4 L1040.3,722.0 L1042.7,721.7 L1045.2,721.3 L1047.7,720.9 L1050.1,720.6 L1052.6,720.2 L1055.1,719.9 L1057.5,719.5 L1060.0,719.1 L1062.5,718.8 L1064.9,718.4 L1067.4,718.1 L1069.9,717.7 L1072.3,717.4 L1074.8,717.0 L1077.3,716.7 L1079.7,716.3 L1082.2,716.0 L1084.7,715.7 L1087.1,715.3 L1089.6,715.0 L1092.1,714.7 L1094.5,714.3 L1097.0,714.0 L1099.5,713.7 L1101.9,713.3 L1104.4,713.0 L1106.9,712.7 L1109.4,712.4 L1111.8,712.1 L1114.3,711.7 L1116.8,711.4 L1119.2,711.1 L1121.7,710.8 L1124.2,710.5 L1126.7,710.2 L1129.1,709.9 L1131.6,709.5 L1134.1,709.2 L1136.6,708.9 L1139.0,708.6 L1141.5,708.3 L1144.0,708.0 L1146.4,707.7 L1148.9,707.4 L1151.4,707.1 L1153.9,706.9 L1156.3,706.6 L1158.8,706.3 L1161.3,706.0 L1163.8,705.7 L1166.2,705.4 L1168.7,705.1 L1171.2,704.8 L1173.7,704.6 L1176.2,704.3 L1178.6,704.0 L1181.1,703.7 L1183.6,703.5 L1186.1,703.2 L1188.5,702.9 L1191.0,702.7 L1193.5,702.4 L1196.0,702.1 L1198.5,701.9 L1200.9,701.6 L1203.4,701.3 L1205.9,701.1 L1208.4,700.8 L1210.8,700.5 L1213.3,700.3 L1215.8,700.0 L1218.3,699.8 L1220.8,699.5 L1223.2,699.3 L1225.7,699.0 L1228.2,698.8 L1230.7,698.5 L1233.2,698.3 L1235.6,698.1 L1238.1,697.8 L1240.6,697.6 L1243.1,697.3 L1245.6,697.1 L1248.1,696.9 L1250.5,696.6 L1253.0,696.4 L1255.5,696.2 L1258.0,695.9 L1260.5,695.7 L1262.9,695.5 L1265.4,695.3 L1267.9,695.0 L1270.4,694.8 L1272.9,694.6 L1275.4,694.4 L1277.8,694.1 L1280.3,693.9 L1282.8,693.7 L1285.3,693.5 L1287.8,693.3 L1290.3,693.1 L1292.7,692.9 L1295.2,692.6 L1297.7,692.4 L1300.2,692.2 L1302.7,692.0 L1305.2,691.8 L1307.6,691.6 L1310.1,691.4 L1312.6,691.2 L1315.1,691.0 L1317.6,690.8 L1320.1,690.6 L1322.6,690.4 L1325.0,690.2 L1327.5,690.0 L1330.0,689.9 L1332.5,689.7 L1335.0,689.5 L1337.5,689.3 L1340.0,689.1 L1342.4,688.9 L1344.9,688.7 L1347.4,688.5 L1349.9,688.4 L1352.4,688.2 L1354.9,688.0 L1357.4,687.8 L1359.8,687.7 L1362.3,687.5 L1364.8,687.3 L1367.3,687.1 L1369.8,687.0 L1372.3,686.8 L1374.8,686.6 L1377.2,686.5 L1379.7,686.3 L1382.2,686.1 L1384.7,686.0 L1387.2,685.8 L1389.7,685.6 L1392.2,685.5 L1394.7,685.3 L1397.1,685.2 L1399.6,685.0 L1402.1,684.8 L1404.6,684.7 L1407.1,684.5 L1409.6,684.4 L1412.1,684.2 L1414.6,684.1 L1417.0,683.9 L1419.5,683.8 L1422.0,683.6 L1424.5,683.5 L1427.0,683.3 L1429.5,683.2 L1432.0,683.0 L1434.5,682.9 L1436.9,682.8 L1439.4,682.6 L1441.9,682.5 L1444.4,682.4 L1446.9,682.2 L1449.4,682.1 L1451.9,681.9 L1454.4,681.8 L1456.8,681.7 L1459.3,681.5 L1461.8,681.4 L1464.3,681.3 L1466.8,681.2 L1469.3,681.0 L1471.8,680.9 L1474.3,680.8 L1476.7,680.7 L1479.2,680.5 L1481.7,680.4 L1484.2,680.3 L1486.7,680.2 L1489.2,680.1 L1491.7,679.9 L1494.2,679.8 L1496.6,679.7 L1499.1,679.6 L1501.6,679.5 L1504.1,679.4 L1506.6,679.2 L1509.1,679.1 L1511.6,679.0 L1514.1,678.9 L1516.5,678.8 L1519.0,678.7 L1521.5,678.6 L1524.0,678.5 L1526.5,678.4 L1529.0,678.3" stroke="#0000ff" stroke-width="6.0" stroke-dasharray="4.5 26.6" stroke-linecap="round"/>
<path d="M469.3,144.5 L469.5,146.7 L469.6,148.9 L469.8,151.1 L470.0,153.3 L470.1,155.5 L470.3,157.7 L470.5,159.9 L470.7,162.1 L470.8,164.3 L471.0,166.5 L471.2,168.7 L471.4,170.9 L471.5,173.1 L471.7,175.3 L471.9,177.5 L472.1,179.7 L472.3,181.9 L472.4,184.1 L472.6,186.3 L472.8,188.5 L473.0,190.7 L473.2,192.9 L473.4,195.1 L473.6,197.3 L473.8,199.5 L474.0,201.7 L474.2,203.9 L474.4,206.1 L474.6,208.3 L474.8,210.5 L475.0,212.7 L475.2,214.9 L475.4,217.1 L475.6,219.3 L475.8,221.5 L476.0,223.7 L476.2,225.9 L476.5,228.1 L476.7,230.3 L476.9,232.5 L477.1,234.7 L477.3,236.9 L477.5,239.1 L477.8,241.3 L478.0,243.5 L478.2,245.7 L478.4,247.9 L478.6,250.1 L478.9,252.3 L479.1,254.5 L479.3,256.7 L479.6,258.9 L479.8,261.1 L480.0,263.3 L480.3,265.5 L480.5,267.7 L480.7,269.9 L481.0,272.1 L481.2,274.3 L481.4,276.5 L481.7,278.7 L481.9,280.9 L482.2,283.1 L482.4,285.3 L482.6,287.5 L482.9,289.7 L483.1,291.9 L483.4,294.0 L483.6,296.2 L483.9,298.4 L484.1,300.6 L484.4,302.8 L484.6,305.0 L484.9,307.2 L485.1,309.4 L485.4,311.6 L485.7,313.8 L485.9,316.0 L486.2,318.2 L486.4,320.4 L486.7,322.6 L486.9,324.8 L487.2,327.0 L487.5,329.2 L487.7,331.4 L488.0,333.6 L488.3,335.8 L488.5,338.0 L488.8,340.2 L489.1,342.4 L489.3,344.6 L489.6,346.8 L489.9,348.9 L490.2,351.1 L490.4,353.3 L490.7,355.5 L491.0,357.7 L491.2,359.9 L491.5,362.1 L491.8,364.3 L492.1,366.5 L492.4,368.7 L492.6,370.9 L492.9,373.1 L493.2,375.3 L493.5,377.5 L493.8,379.6 L494.1,381.8 L494.3,384.0 L494.6,386.2 L494.9,388.4 L495.2,390.6 L495.5,392.8 L495.8,395.0 L496.1,397.2 L496.3,399.4 L496.6,401.5 L496.9,403.7 L497.2,405.9 L497.5,408.1 L497.8,410.3 L498.1,412.5 L498.4,414.7 L498.7,416.9 L499.0,419.0 L499.3,421.2 L499.6,423.4 L499.9,425.6 L500.2,427.8 L500.5,430.0 L500.8,432.1 L501.2,434.3 L501.5,436.5 L501.8,438.7 L502.1,440.9 L502.4,443.1 L502.7,445.2 L503.1,447.4 L503.4,449.6 L503.7,451.8 L504.0,454.0 L504.4,456.2 L504.7,458.3 L505.0,460.5 L505.4,462.7 L505.7,464.9 L506.0,467.0 L506.4,469.2 L506.7,471.4 L507.1,473.6 L507.4,475.8 L507.8,477.9 L508.1,480.1 L508.5,482.3 L508.9,484.5 L509.2,486.6 L509.6,488.8 L510.0,491.0 L510.3,493.2 L510.7,495.3 L511.1,497.5 L511.5,499.7 L511.9,501.8 L512.2,504.0 L512.6,506.2 L513.0,508.3 L513.4,510.5 L513.8,512.7 L514.2,514.8 L514.6,517.0 L515.1,519.2 L515.5,521.3 L515.9,523.5 L516.3,525.7 L516.7,527.8 L517.2,530.0 L517.6,532.2 L518.0,534.3 L518.5,536.5 L518.9,538.7 L519.4,540.8 L519.8,543.0 L520.3,545.1 L520.7,547.3 L521.2,549.5 L521.7,551.6 L522.1,553.8 L522.6,555.9 L523.1,558.1 L523.6,560.2 L524.1,562.4 L524.6,564.5 L525.1,566.7 L525.6,568.9 L526.1,571.0 L526.6,573.2 L527.1,575.3 L527.6,577.5 L528.1,579.6 L528.7,581.8 L529.2,583.9 L529.7,586.0 L530.3,588.2 L530.8,590.3 L531.4,592.5 L532.0,594.6 L532.5,596.8 L533.1,598.9 L533.7,601.1 L534.2,603.2 L534.8,605.3 L535.4,607.5 L536.0,609.6 L536.6,611.8 L537.2,613.9 L537.8,616.0 L538.5,618.2 L539.1,620.3 L539.7,622.4 L540.3,624.6 L541.0,626.7 L541.6,628.8 L542.3,631.0 L542.9,633.1 L543.6,635.2 L544.3,637.4 L545.0,639.5 L545.6,641.6 L546.3,643.7 L547.0,645.9 L547.7,648.0 L548.4,650.1 L549.1,652.2 L549.9,654.3 L550.6,656.5 L551.4,658.6 L552.1,660.7 L552.9,662.7 L553.7,664.8 L554.5,666.9 L555.3,669.0 L556.2,671.0 L557.0,673.1 L557.9,675.1 L558.8,677.1 L559.7,679.1 L560.7,681.1 L561.6,683.1 L562.6,685.0 L563.6,687.0 L564.7,688.9 L565.8,690.8 L566.9,692.6 L568.0,694.5 L569.2,696.3 L570.4,698.1 L571.6,699.9 L572.9,701.7 L574.2,703.4 L575.5,705.1 L576.9,706.8 L578.3,708.4 L579.7,710.0 L581.2,711.6 L582.7,713.2 L584.3,714.7 L585.8,716.2 L587.5,717.7 L589.1,719.1 L590.8,720.5 L592.4,721.9 L594.2,723.2 L595.9,724.5 L597.7,725.8 L599.5,727.0 L601.3,728.2 L603.2,729.4 L605.0,730.5 L606.9,731.6 L608.9,732.7 L610.8,733.7 L612.8,734.7 L614.7,735.6 L616.8,736.5 L618.8,737.4 L620.8,738.2 L622.9,738.9 L624.9,739.7 L627.0,740.4 L629.1,741.0 L631.2,741.6 L633.4,742.2 L635.5,742.7 L637.7,743.2 L639.9,743.7 L642.0,744.1 L644.2,744.5 L646.4,744.9 L648.6,745.2 L650.8,745.5 L653.1,745.8 L655.3,746.0 L657.5,746.2 L659.8,746.4 L662.0,746.6 L664.2,746.8 L666.5,746.9 L668.7,747.1 L671.0,747.2 L673.2,747.3 L675.5,747.4 L677.7,747.4 L679.9,747.5 L682.2,747.6 L684.4,747.6 L686.7,747.7 L688.9,747.7 L691.1,747.7 L693.4,747.7 L695.6,747.7 L697.8,747.7 L700.0,747.7 L702.2,747.7 L704.5,747.7 L706.7,747.6 L708.9,747.6 L711.1,747.6 L713.3,747.5 L715.5,747.4 L717.7,747.4 L719.9,747.3 L722.1,747.2 L724.3,747.2 L726.5,747.1 L728.7,747.0 L730.9,746.9 L733.1,746.8 L735.3,746.6 L737.5,746.5 L739.7,746.4 L741.9,746.3 L744.1,746.1 L746.3,746.0 L748.5,745.8 L750.7,745.7 L752.9,745.5 L755.0,745.4 L757.2,745.2 L759.4,745.0 L761.6,744.8 L763.8,744.7 L766.0,744.5 L768.2,744.3 L770.4,744.1 L772.6,743.9 L774.8,743.7 L776.9,743.4 L779.1,743.2 L781.3,743.0 L783.5,742.8 L785.7,742.5 L787.9,742.3 L790.1,742.1 L792.3,741.8 L794.5,741.6 L796.7,741.3 L798.8,741.1 L801.0,740.8 L803.2,740.6 L805.4,740.3 L807.6,740.0 L809.8,739.8 L812.0,739.5 L814.2,739.2 L816.4,738.9 L818.6,738.7 L820.7,738.4 L822.9,738.1 L825.1,737.8 L827.3,737.5 L829.5,737.2 L831.7,736.9 L833.9,736.6 L836.1,736.3 L838.3,736.0 L840.5,735.7 L842.6,735.4 L844.8,735.1 L847.0,734.8 L849.2,734.5 L851.4,734.2 L853.6,733.9 L855.8,733.6 L858.0,733.3 L860.2,733.0 L862.4,732.7 L864.6,732.4 L866.7,732.1 L868.9,731.8 L871.1,731.5 L873.3,731.2 L875.5,730.8 L877.7,730.5 L879.9,730.2 L882.1,729.9 L884.3,729.6 L886.5,729.3 L888.7,729.0 L890.9,728.7 L893.0,728.4 L895.2,728.1 L897.4,727.8 L899.6,727.5 L901.8,727.2 L904.0,726.9 L906.2,726.6 L908.4,726.3 L910.6,726.0 L912.8,725.7 L915.0,725.4 L917.2,725.1 L919.3,724.8 L921.5,724.5 L923.7,724.3 L925.9,724.0 L928.1,723.7 L930.3,723.4 L932.5,723.1 L934.7,722.8 L936.9,722.5 L939.1,722.2 L941.3,722.0 L943.5,721.7 L945.7,721.4 L947.9,721.1 L950.0,720.8 L952.2,720.6 L954.4,720.3 L956.6,720.0 L958.8,719.7 L961.0,719.4 L963.2,719.2 L965.4,718.9 L967.6,718.6 L969.8,718.4 L972.0,718.1 L974.2,717.8 L976.4,717.5 L978.6,717.3 L980.8,717.0 L982.9,716.7 L985.1,716.5 L987.3,716.2 L989.5,715.9 L991.7,715.7 L993.9,715.4 L996.1,715.2 L998.3,714.9 L1000.5,714.6 L1002.7,714.4 L1004.9,714.1 L1007.1,713.9 L1009.3,713.6 L1011.5,713.3 L1013.7,713.1 L1015.9,712.8 L1018.1,712.6 L1020.3,712.3 L1022.5,712.1 L1024.7,711.8 L1026.8,711.6 L1029.0,711.3 L1031.2,711.1 L1033.4,710.8 L1035.6,710.6 L1037.8,710.3 L1040.0,710.1 L1042.2,709.8 L1044.4,709.6 L1046.6,709.4 L1048.8,709.1 L1051.0,708.9 L1053.2,708.6 L1055.4,708.4 L1057.6,708.2 L1059.8,707.9 L1062.0,707.7 L1064.2,707.5 L1066.4,707.2 L1068.6,707.0 L1070.8,706.7 L1073.0,706.5 L1075.2,706.3 L1077.4,706.1 L1079.6,705.8 L1081.8,705.6 L1083.9,705.4 L1086.1,705.1 L1088.3,704.9 L1090.5,704.7 L1092.7,704.5 L1094.9,704.2 L1097.1,704.0 L1099.3,703.8 L1101.5,703.6 L1103.7,703.3 L1105.9,703.1 L1108.1,702.9 L1110.3,702.7 L1112.5,702.5 L1114.7,702.2 L1116.9,702.0 L1119.1,701.8 L1121.3,701.6 L1123.5,701.4 L1125.7,701.2 L1127.9,701.0 L1130.1,700.7 L1132.3,700.5 L1134.5,700.3 L1136.7,700.1 L1138.9,699.9 L1141.1,699.7 L1143.3,699.5 L1145.5,699.3 L1147.7,699.1 L1149.9,698.9 L1152.1,698.7 L1154.3,698.5 L1156.5,698.3 L1158.7,698.1 L1160.9,697.9 L1163.1,697.7 L1165.3,697.5 L1167.5,697.3 L1169.7,697.1 L1171.9,696.9 L1174.1,696.7 L1176.3,696.5 L1178.5,696.3 L1180.7,696.1 L1182.9,695.9 L1185.1,695.7 L1187.3,695.5 L1189.5,695.3 L1191.7,695.1 L1193.9,694.9 L1196.1,694.7 L1198.3,694.6 L1200.5,694.4 L1202.7,694.2 L1204.9,694.0 L1207.1,693.8 L1209.3,693.6 L1211.5,693.4 L1213.7,693.3 L1215.9,693.1 L1218.1,692.9 L1220.3,692.7 L1222.5,692.5 L1224.7,692.3 L1226.9,692.2 L1229.1,692.0 L1231.3,691.8 L1233.5,691.6 L1235.7,691.5 L1237.9,691.3 L1240.1,691.1 L1242.3,690.9 L1244.5,690.8 L1246.7,690.6 L1248.9,690.4 L1251.1,690.2 L1253.3,690.1 L1255.5,689.9 L1257.7,689.7 L1259.9,689.6 L1262.1,689.4 L1264.3,689.2 L1266.5,689.1 L1268.7,688.9 L1270.9,688.7 L1273.1,688.6 L1275.3,688.4 L1277.5,688.3 L1279.7,688.1 L1281.9,687.9 L1284.1,687.8 L1286.3,687.6 L1288.5,687.5 L1290.7,687.3 L1292.9,687.1 L1295.1,687.0 L1297.3,686.8 L1299.6,686.7 L1301.8,686.5 L1304.0,686.4 L1306.2,686.2 L1308.4,686.1 L1310.6,685.9 L1312.8,685.8 L1315.0,685.6 L1317.2,685.5 L1319.4,685.3 L1321.6,685.2 L1323.8,685.0 L1326.0,684.9 L1328.2,684.7 L1330.4,684.6 L1332.6,684.4 L1334.8,684.3 L1337.0,684.1 L1339.2,684.0 L1341.4,683.9 L1343.6,683.7 L1345.8,683.6 L1348.0,683.4 L1350.2,683.3 L1352.4,683.2 L1354.6,683.0 L1356.9,682.9 L1359.1,682.7 L1361.3,682.6 L1363.5,682.5 L1365.7,682.3 L1367.9,682.2 L1370.1,682.1 L1372.3,681.9 L1374.5,681.8 L1376.7,681.7 L1378.9,681.5 L1381.1,681.4 L1383.3,681.3 L1385.5,681.1 L1387.7,681.0 L1389.9,680.9 L1392.1,680.8 L1394.3,680.6 L1396.5,680.5 L1398.8,680.4 L1401.0,680.3 L1403.2,680.1 L1405.4,680.0 L1407.6,679.9 L1409.8,679.8 L1412.0,679.6 L1414.2,679.5 L1416.4,679.4 L1418.6,679.3 L1420.8,679.2 L1423.0,679.1 L1425.2,678.9 L1427.4,678.8 L1429.6,678.7 L1431.8,678.6 L1434.1,678.5 L1436.3,678.4 L1438.5,678.2 L1440.7,678.1 L1442.9,678.0 L1445.1,677.9 L1447.3,677.8 L1449.5,677.7 L1451.7,677.6 L1453.9,677.5 L1456.1,677.4 L1458.3,677.2 L1460.5,677.1 L1462.7,677.0 L1465.0,676.9 L1467.2,676.8 L1469.4,676.7 L1471.6,676.6 L1473.8,676.5 L1476.0,676.4 L1478.2,676.3 L1480.4,676.2 L1482.6,676.1 L1484.8,676.0 L1487.0,675.9 L1489.2,675.8 L1491.4,675.7 L1493.7,675.6 L1495.9,675.5 L1498.1,675.4 L1500.3,675.3 L1502.5,675.2 L1504.7,675.1 L1506.9,675.0 L1509.1,674.9 L1511.3,674.8 L1513.5,674.7 L1515.7,674.6 L1518.0,674.6 L1520.2,674.5 L1522.4,674.4 L1524.6,674.3 L1526.8,674.2 L1529.0,674.1" stroke="#ff00ff" stroke-width="6.0" stroke-dasharray="26.5 17.7 3.5 17.75" stroke-linecap="round" stroke-dashoffset="13.2"/>
<path d="M376.5,144.9 L377.8,146.1 L379.2,147.4 L380.5,148.7 L381.8,149.9 L383.1,151.2 L384.4,152.5 L385.8,153.7 L387.1,155.0 L388.4,156.3 L389.7,157.5 L391.0,158.8 L392.4,160.0 L393.7,161.3 L395.0,162.6 L396.3,163.8 L397.7,165.1 L399.0,166.3 L400.3,167.6 L401.7,168.8 L403.0,170.1 L404.3,171.3 L405.7,172.6 L407.0,173.8 L408.3,175.1 L409.7,176.3 L411.0,177.6 L412.3,178.8 L413.7,180.1 L415.0,181.3 L416.3,182.5 L417.7,183.8 L419.0,185.0 L420.4,186.3 L421.7,187.5 L423.0,188.8 L424.4,190.0 L425.7,191.3 L427.1,192.5 L428.4,193.7 L429.7,195.0 L431.1,196.2 L432.4,197.5 L433.8,198.7 L435.1,200.0 L436.4,201.2 L437.8,202.5 L439.1,203.7 L440.5,204.9 L441.8,206.2 L443.1,207.4 L444.5,208.7 L445.8,209.9 L447.2,211.2 L448.5,212.4 L449.8,213.6 L451.2,214.9 L452.5,216.1 L453.8,217.4 L455.2,218.6 L456.5,219.9 L457.8,221.1 L459.2,222.4 L460.5,223.6 L461.9,224.9 L463.2,226.1 L464.5,227.4 L465.9,228.6 L467.2,229.9 L468.5,231.1 L469.8,232.4 L471.2,233.6 L472.5,234.9 L473.8,236.2 L475.2,237.4 L476.5,238.7 L477.8,239.9 L479.1,241.2 L480.5,242.5 L481.8,243.7 L483.1,245.0 L484.4,246.2 L485.8,247.5 L487.1,248.8 L488.4,250.0 L489.7,251.3 L491.0,252.5 L492.4,253.8 L493.7,255.1 L495.0,256.3 L496.3,257.6 L497.7,258.9 L499.0,260.1 L500.3,261.4 L501.6,262.6 L503.0,263.9 L504.3,265.2 L505.6,266.4 L506.9,267.7 L508.2,268.9 L509.6,270.2 L510.9,271.5 L512.2,272.7 L513.6,274.0 L514.9,275.2 L516.2,276.5 L517.5,277.7 L518.9,279.0 L520.2,280.2 L521.5,281.5 L522.9,282.7 L524.2,284.0 L525.5,285.2 L526.9,286.5 L528.2,287.7 L529.6,289.0 L530.9,290.2 L532.2,291.4 L533.6,292.7 L534.9,293.9 L536.3,295.1 L537.6,296.4 L539.0,297.6 L540.3,298.8 L541.7,300.1 L543.0,301.3 L544.4,302.5 L545.8,303.7 L547.1,304.9 L548.5,306.1 L549.8,307.4 L551.2,308.6 L552.6,309.8 L554.0,311.0 L555.3,312.2 L556.7,313.4 L558.1,314.6 L559.5,315.8 L560.8,317.0 L562.2,318.1 L563.6,319.3 L565.0,320.5 L566.4,321.7 L567.8,322.9 L569.2,324.0 L570.6,325.2 L572.0,326.4 L573.4,327.5 L574.8,328.7 L576.2,329.9 L577.7,331.0 L579.1,332.2 L580.5,333.3 L581.9,334.5 L583.3,335.6 L584.8,336.7 L586.2,337.9 L587.6,339.0 L589.1,340.1 L590.5,341.3 L591.9,342.4 L593.4,343.5 L594.8,344.6 L596.3,345.8 L597.7,346.9 L599.2,348.0 L600.6,349.1 L602.1,350.2 L603.5,351.3 L605.0,352.4 L606.4,353.5 L607.9,354.6 L609.4,355.7 L610.8,356.8 L612.3,357.9 L613.8,359.0 L615.2,360.1 L616.7,361.2 L618.2,362.2 L619.6,363.3 L621.1,364.4 L622.6,365.5 L624.1,366.5 L625.6,367.6 L627.1,368.7 L628.5,369.8 L630.0,370.8 L631.5,371.9 L633.0,373.0 L634.5,374.0 L636.0,375.1 L637.5,376.1 L639.0,377.2 L640.5,378.2 L642.0,379.3 L643.5,380.3 L645.0,381.4 L646.5,382.4 L648.0,383.5 L649.5,384.5 L651.0,385.5 L652.5,386.6 L654.0,387.6 L655.6,388.6 L657.1,389.6 L658.6,390.7 L660.1,391.7 L661.6,392.7 L663.2,393.7 L664.7,394.7 L666.2,395.7 L667.8,396.7 L669.3,397.7 L670.8,398.7 L672.4,399.7 L673.9,400.7 L675.4,401.7 L677.0,402.7 L678.5,403.6 L680.1,404.6 L681.6,405.6 L683.2,406.5 L684.8,407.5 L686.3,408.5 L687.9,409.4 L689.4,410.4 L691.0,411.3 L692.6,412.2 L694.1,413.2 L695.7,414.1 L697.3,415.0 L698.9,416.0 L700.5,416.9 L702.0,417.8 L703.6,418.7 L705.2,419.6 L706.8,420.5 L708.4,421.4 L710.0,422.3 L711.6,423.2 L713.2,424.1 L714.8,425.0 L716.4,425.8 L718.0,426.7 L719.6,427.6 L721.2,428.4 L722.8,429.3 L724.4,430.2 L726.1,431.0 L727.7,431.9 L729.3,432.7 L730.9,433.6 L732.5,434.4 L734.2,435.2 L735.8,436.1 L737.4,436.9 L739.1,437.7 L740.7,438.5 L742.3,439.3 L744.0,440.2 L745.6,441.0 L747.2,441.8 L748.9,442.6 L750.5,443.4 L752.2,444.2 L753.8,445.0 L755.5,445.7 L757.1,446.5 L758.8,447.3 L760.4,448.1 L762.1,448.8 L763.8,449.6 L765.4,450.4 L767.1,451.1 L768.7,451.9 L770.4,452.6 L772.1,453.4 L773.7,454.1 L775.4,454.9 L777.1,455.6 L778.8,456.4 L780.4,457.1 L782.1,457.8 L783.8,458.6 L785.5,459.3 L787.1,460.0 L788.8,460.7 L790.5,461.4 L792.2,462.1 L793.9,462.8 L795.5,463.5 L797.2,464.2 L798.9,464.9 L800.6,465.6 L802.3,466.3 L804.0,467.0 L805.7,467.7 L807.4,468.4 L809.1,469.0 L810.8,469.7 L812.5,470.4 L814.2,471.1 L815.9,471.7 L817.6,472.4 L819.3,473.0 L821.0,473.7 L822.7,474.3 L824.4,475.0 L826.1,475.6 L827.8,476.3 L829.5,476.9 L831.2,477.6 L832.9,478.2 L834.6,478.8 L836.4,479.4 L838.1,480.1 L839.8,480.7 L841.5,481.3 L843.2,481.9 L844.9,482.5 L846.7,483.1 L848.4,483.8 L850.1,484.4 L851.8,485.0 L853.5,485.6 L855.3,486.2 L857.0,486.7 L858.7,487.3 L860.5,487.9 L862.2,488.5 L863.9,489.1 L865.6,489.7 L867.4,490.2 L869.1,490.8 L870.8,491.4 L872.6,491.9 L874.3,492.5 L876.0,493.1 L877.8,493.6 L879.5,494.2 L881.3,494.7 L883.0,495.3 L884.7,495.8 L886.5,496.4 L888.2,496.9 L890.0,497.5 L891.7,498.0 L893.5,498.5 L895.2,499.1 L897.0,499.6 L898.7,500.1 L900.5,500.6 L902.2,501.2 L904.0,501.7 L905.7,502.2 L907.5,502.7 L909.2,503.2 L911.0,503.7 L912.7,504.2 L914.5,504.7 L916.2,505.2 L918.0,505.7 L919.8,506.2 L921.5,506.7 L923.3,507.2 L925.0,507.7 L926.8,508.2 L928.6,508.7 L930.3,509.2 L932.1,509.6 L933.8,510.1 L935.6,510.6 L937.4,511.1 L939.1,511.5 L940.9,512.0 L942.7,512.5 L944.4,512.9 L946.2,513.4 L948.0,513.9 L949.8,514.3 L951.5,514.8 L953.3,515.2 L955.1,515.7 L956.8,516.1 L958.6,516.6 L960.4,517.0 L962.2,517.4 L963.9,517.9 L965.7,518.3 L967.5,518.7 L969.3,519.2 L971.1,519.6 L972.8,520.0 L974.6,520.5 L976.4,520.9 L978.2,521.3 L980.0,521.7 L981.7,522.1 L983.5,522.6 L985.3,523.0 L987.1,523.4 L988.9,523.8 L990.7,524.2 L992.4,524.6 L994.2,525.0 L996.0,525.4 L997.8,525.8 L999.6,526.2 L1001.4,526.6 L1003.2,527.0 L1004.9,527.4 L1006.7,527.8 L1008.5,528.2 L1010.3,528.5 L1012.1,528.9 L1013.9,529.3 L1015.7,529.7 L1017.5,530.1 L1019.3,530.4 L1021.1,530.8 L1022.9,531.2 L1024.7,531.6 L1026.4,531.9 L1028.2,532.3 L1030.0,532.7 L1031.8,533.0 L1033.6,533.4 L1035.4,533.8 L1037.2,534.1 L1039.0,534.5 L1040.8,534.8 L1042.6,535.2 L1044.4,535.5 L1046.2,535.9 L1048.0,536.2 L1049.8,536.6 L1051.6,536.9 L1053.4,537.3 L1055.2,537.6 L1057.0,537.9 L1058.8,538.3 L1060.6,538.6 L1062.4,539.0 L1064.2,539.3 L1066.0,539.6 L1067.8,540.0 L1069.6,540.3 L1071.4,540.6 L1073.2,540.9 L1075.0,541.3 L1076.8,541.6 L1078.6,541.9 L1080.4,542.2 L1082.2,542.5 L1084.0,542.9 L1085.8,543.2 L1087.6,543.5 L1089.4,543.8 L1091.3,544.1 L1093.1,544.4 L1094.9,544.7 L1096.7,545.1 L1098.5,545.4 L1100.3,545.7 L1102.1,546.0 L1103.9,546.3 L1105.7,546.6 L1107.5,546.9 L1109.3,547.2 L1111.1,547.5 L1112.9,547.8 L1114.7,548.1 L1116.5,548.4 L1118.3,548.7 L1120.1,548.9 L1122.0,549.2 L1123.8,549.5 L1125.6,549.8 L1127.4,550.1 L1129.2,550.4 L1131.0,550.7 L1132.8,551.0 L1134.6,551.2 L1136.4,551.5 L1138.2,551.8 L1140.0,552.1 L1141.8,552.4 L1143.6,552.6 L1145.4,552.9 L1147.3,553.2 L1149.1,553.5 L1150.9,553.7 L1152.7,554.0 L1154.5,554.3 L1156.3,554.5 L1158.1,554.8 L1159.9,555.1 L1161.7,555.3 L1163.5,555.6 L1165.3,555.9 L1167.1,556.1 L1168.9,556.4 L1170.8,556.7 L1172.6,556.9 L1174.4,557.2 L1176.2,557.4 L1178.0,557.7 L1179.8,557.9 L1181.6,558.2 L1183.4,558.5 L1185.2,558.7 L1187.0,559.0 L1188.8,559.2 L1190.7,559.5 L1192.5,559.7 L1194.3,559.9 L1196.1,560.2 L1197.9,560.4 L1199.7,560.7 L1201.5,560.9 L1203.3,561.2 L1205.1,561.4 L1206.9,561.6 L1208.7,561.9 L1210.6,562.1 L1212.4,562.4 L1214.2,562.6 L1216.0,562.8 L1217.8,563.1 L1219.6,563.3 L1221.4,563.5 L1223.2,563.8 L1225.0,564.0 L1226.8,564.2 L1228.7,564.4 L1230.5,564.7 L1232.3,564.9 L1234.1,565.1 L1235.9,565.4 L1237.7,565.6 L1239.5,565.8 L1241.3,566.0 L1243.1,566.2 L1245.0,566.5 L1246.8,566.7 L1248.6,566.9 L1250.4,567.1 L1252.2,567.3 L1254.0,567.5 L1255.8,567.8 L1257.6,568.0 L1259.4,568.2 L1261.3,568.4 L1263.1,568.6 L1264.9,568.8 L1266.7,569.0 L1268.5,569.2 L1270.3,569.4 L1272.1,569.6 L1273.9,569.8 L1275.8,570.0 L1277.6,570.2 L1279.4,570.4 L1281.2,570.6 L1283.0,570.8 L1284.8,571.0 L1286.6,571.2 L1288.5,571.4 L1290.3,571.6 L1292.1,571.8 L1293.9,572.0 L1295.7,572.2 L1297.5,572.4 L1299.3,572.6 L1301.2,572.8 L1303.0,573.0 L1304.8,573.2 L1306.6,573.3 L1308.4,573.5 L1310.2,573.7 L1312.0,573.9 L1313.9,574.1 L1315.7,574.3 L1317.5,574.5 L1319.3,574.6 L1321.1,574.8 L1322.9,575.0 L1324.7,575.2 L1326.6,575.4 L1328.4,575.5 L1330.2,575.7 L1332.0,575.9 L1333.8,576.1 L1335.6,576.2 L1337.5,576.4 L1339.3,576.6 L1341.1,576.7 L1342.9,576.9 L1344.7,577.1 L1346.5,577.3 L1348.4,577.4 L1350.2,577.6 L1352.0,577.8 L1353.8,577.9 L1355.6,578.1 L1357.5,578.3 L1359.3,578.4 L1361.1,578.6 L1362.9,578.7 L1364.7,578.9 L1366.5,579.1 L1368.4,579.2 L1370.2,579.4 L1372.0,579.5 L1373.8,579.7 L1375.6,579.8 L1377.5,580.0 L1379.3,580.2 L1381.1,580.3 L1382.9,580.5 L1384.7,580.6 L1386.6,580.8 L1388.4,580.9 L1390.2,581.1 L1392.0,581.2 L1393.8,581.4 L1395.7,581.5 L1397.5,581.7 L1399.3,581.8 L1401.1,581.9 L1402.9,582.1 L1404.8,582.2 L1406.6,582.4 L1408.4,582.5 L1410.2,582.7 L1412.1,582.8 L1413.9,582.9 L1415.7,583.1 L1417.5,583.2 L1419.3,583.4 L1421.2,583.5 L1423.0,583.6 L1424.8,583.8 L1426.6,583.9 L1428.5,584.0 L1430.3,584.2 L1432.1,584.3 L1433.9,584.4 L1435.8,584.6 L1437.6,584.7 L1439.4,584.8 L1441.2,585.0 L1443.1,585.1 L1444.9,585.2 L1446.7,585.3 L1448.5,585.5 L1450.4,585.6 L1452.2,585.7 L1454.0,585.8 L1455.8,586.0 L1457.7,586.1 L1459.5,586.2 L1461.3,586.3 L1463.1,586.5 L1465.0,586.6 L1466.8,586.7 L1468.6,586.8 L1470.4,586.9 L1472.3,587.1 L1474.1,587.2 L1475.9,587.3 L1477.8,587.4 L1479.6,587.5 L1481.4,587.6 L1483.2,587.7 L1485.1,587.9 L1486.9,588.0 L1488.7,588.1 L1490.6,588.2 L1492.4,588.3 L1494.2,588.4 L1496.0,588.5 L1497.9,588.6 L1499.7,588.7 L1501.5,588.9 L1503.4,589.0 L1505.2,589.1 L1507.0,589.2 L1508.9,589.3 L1510.7,589.4 L1512.5,589.5 L1514.3,589.6 L1516.2,589.7 L1518.0,589.8 L1519.8,589.9 L1521.7,590.0 L1523.5,590.1 L1525.3,590.2 L1527.2,590.3 L1529.0,590.4" stroke="#008000" stroke-width="5.5"/>
<path d="M348.6,152.0 L349.9,153.2 L351.2,154.5 L352.6,155.8 L353.9,157.1 L355.3,158.4 L356.6,159.6 L358.0,160.9 L359.3,162.2 L360.7,163.4 L362.0,164.7 L363.4,166.0 L364.7,167.2 L366.1,168.5 L367.5,169.8 L368.8,171.0 L370.2,172.3 L371.5,173.6 L372.9,174.8 L374.3,176.1 L375.6,177.3 L377.0,178.6 L378.4,179.8 L379.7,181.1 L381.1,182.3 L382.5,183.6 L383.8,184.8 L385.2,186.1 L386.6,187.3 L387.9,188.6 L389.3,189.8 L390.7,191.0 L392.1,192.3 L393.4,193.5 L394.8,194.8 L396.2,196.0 L397.6,197.2 L399.0,198.5 L400.3,199.7 L401.7,200.9 L403.1,202.2 L404.5,203.4 L405.9,204.6 L407.3,205.8 L408.7,207.1 L410.0,208.3 L411.4,209.5 L412.8,210.7 L414.2,212.0 L415.6,213.2 L417.0,214.4 L418.4,215.6 L419.8,216.8 L421.2,218.1 L422.6,219.3 L424.0,220.5 L425.4,221.7 L426.8,222.9 L428.2,224.1 L429.6,225.3 L431.0,226.5 L432.4,227.7 L433.8,229.0 L435.2,230.2 L436.6,231.4 L438.0,232.6 L439.4,233.8 L440.8,235.0 L442.2,236.2 L443.6,237.4 L445.0,238.6 L446.4,239.8 L447.9,241.0 L449.3,242.2 L450.7,243.4 L452.1,244.6 L453.5,245.8 L454.9,247.0 L456.3,248.2 L457.8,249.4 L459.2,250.5 L460.6,251.7 L462.0,252.9 L463.4,254.1 L464.8,255.3 L466.3,256.5 L467.7,257.7 L469.1,258.9 L470.5,260.1 L472.0,261.2 L473.4,262.4 L474.8,263.6 L476.2,264.8 L477.7,266.0 L479.1,267.2 L480.5,268.4 L481.9,269.5 L483.4,270.7 L484.8,271.9 L486.2,273.1 L487.7,274.3 L489.1,275.4 L490.5,276.6 L491.9,277.8 L493.4,279.0 L494.8,280.1 L496.2,281.3 L497.7,282.5 L499.1,283.7 L500.6,284.9 L502.0,286.0 L503.4,287.2 L504.9,288.4 L506.3,289.5 L507.7,290.7 L509.2,291.9 L510.6,293.1 L512.1,294.2 L513.5,295.4 L514.9,296.6 L516.4,297.7 L517.8,298.9 L519.3,300.1 L520.7,301.2 L522.2,302.4 L523.6,303.5 L525.1,304.7 L526.5,305.9 L528.0,307.0 L529.4,308.2 L530.9,309.3 L532.3,310.5 L533.8,311.6 L535.2,312.8 L536.7,313.9 L538.2,315.1 L539.6,316.2 L541.1,317.4 L542.5,318.5 L544.0,319.7 L545.5,320.8 L546.9,321.9 L548.4,323.1 L549.9,324.2 L551.3,325.3 L552.8,326.5 L554.3,327.6 L555.8,328.7 L557.2,329.9 L558.7,331.0 L560.2,332.1 L561.7,333.2 L563.1,334.4 L564.6,335.5 L566.1,336.6 L567.6,337.7 L569.1,338.8 L570.6,339.9 L572.1,341.0 L573.5,342.1 L575.0,343.2 L576.5,344.3 L578.0,345.4 L579.5,346.5 L581.0,347.6 L582.5,348.7 L584.0,349.8 L585.5,350.9 L587.0,352.0 L588.5,353.0 L590.1,354.1 L591.6,355.2 L593.1,356.3 L594.6,357.3 L596.1,358.4 L597.6,359.5 L599.1,360.5 L600.7,361.6 L602.2,362.7 L603.7,363.7 L605.2,364.8 L606.8,365.8 L608.3,366.9 L609.8,367.9 L611.4,368.9 L612.9,370.0 L614.4,371.0 L616.0,372.0 L617.5,373.1 L619.1,374.1 L620.6,375.1 L622.2,376.1 L623.7,377.2 L625.3,378.2 L626.8,379.2 L628.4,380.2 L629.9,381.2 L631.5,382.2 L633.1,383.2 L634.6,384.2 L636.2,385.2 L637.8,386.1 L639.4,387.1 L640.9,388.1 L642.5,389.1 L644.1,390.0 L645.7,391.0 L647.2,392.0 L648.8,392.9 L650.4,393.9 L652.0,394.9 L653.6,395.8 L655.2,396.8 L656.8,397.7 L658.4,398.6 L660.0,399.6 L661.6,400.5 L663.2,401.5 L664.8,402.4 L666.4,403.3 L668.0,404.2 L669.6,405.1 L671.3,406.1 L672.9,407.0 L674.5,407.9 L676.1,408.8 L677.7,409.7 L679.4,410.6 L681.0,411.5 L682.6,412.4 L684.2,413.3 L685.9,414.2 L687.5,415.0 L689.1,415.9 L690.8,416.8 L692.4,417.7 L694.0,418.6 L695.7,419.4 L697.3,420.3 L699.0,421.1 L700.6,422.0 L702.3,422.9 L703.9,423.7 L705.6,424.6 L707.2,425.4 L708.9,426.3 L710.5,427.1 L712.2,427.9 L713.9,428.8 L715.5,429.6 L717.2,430.4 L718.8,431.2 L720.5,432.1 L722.2,432.9 L723.8,433.7 L725.5,434.5 L727.2,435.3 L728.9,436.1 L730.5,436.9 L732.2,437.7 L733.9,438.5 L735.6,439.3 L737.2,440.1 L738.9,440.9 L740.6,441.7 L742.3,442.5 L744.0,443.2 L745.7,444.0 L747.4,444.8 L749.1,445.6 L750.7,446.3 L752.4,447.1 L754.1,447.8 L755.8,448.6 L757.5,449.4 L759.2,450.1 L760.9,450.9 L762.6,451.6 L764.3,452.3 L766.0,453.1 L767.7,453.8 L769.4,454.6 L771.1,455.3 L772.8,456.0 L774.6,456.7 L776.3,457.5 L778.0,458.2 L779.7,458.9 L781.4,459.6 L783.1,460.3 L784.8,461.0 L786.5,461.7 L788.3,462.4 L790.0,463.1 L791.7,463.8 L793.4,464.5 L795.1,465.2 L796.9,465.9 L798.6,466.6 L800.3,467.3 L802.0,468.0 L803.8,468.6 L805.5,469.3 L807.2,470.0 L808.9,470.6 L810.7,471.3 L812.4,472.0 L814.1,472.6 L815.9,473.3 L817.6,473.9 L819.3,474.6 L821.1,475.2 L822.8,475.9 L824.5,476.5 L826.3,477.2 L828.0,477.8 L829.8,478.4 L831.5,479.1 L833.2,479.7 L835.0,480.3 L836.7,481.0 L838.5,481.6 L840.2,482.2 L842.0,482.8 L843.7,483.4 L845.5,484.0 L847.2,484.6 L849.0,485.3 L850.7,485.9 L852.5,486.5 L854.2,487.1 L856.0,487.6 L857.7,488.2 L859.5,488.8 L861.2,489.4 L863.0,490.0 L864.7,490.6 L866.5,491.2 L868.3,491.7 L870.0,492.3 L871.8,492.9 L873.5,493.5 L875.3,494.0 L877.1,494.6 L878.8,495.2 L880.6,495.7 L882.3,496.3 L884.1,496.8 L885.9,497.4 L887.6,497.9 L889.4,498.5 L891.2,499.0 L893.0,499.6 L894.7,500.1 L896.5,500.6 L898.3,501.2 L900.0,501.7 L901.8,502.2 L903.6,502.8 L905.4,503.3 L907.1,503.8 L908.9,504.3 L910.7,504.8 L912.5,505.4 L914.2,505.9 L916.0,506.4 L917.8,506.9 L919.6,507.4 L921.4,507.9 L923.1,508.4 L924.9,508.9 L926.7,509.4 L928.5,509.9 L930.3,510.4 L932.1,510.9 L933.8,511.4 L935.6,511.9 L937.4,512.3 L939.2,512.8 L941.0,513.3 L942.8,513.8 L944.6,514.3 L946.4,514.7 L948.2,515.2 L950.0,515.7 L951.7,516.1 L953.5,516.6 L955.3,517.1 L957.1,517.5 L958.9,518.0 L960.7,518.4 L962.5,518.9 L964.3,519.3 L966.1,519.8 L967.9,520.2 L969.7,520.7 L971.5,521.1 L973.3,521.5 L975.1,522.0 L976.9,522.4 L978.7,522.9 L980.5,523.3 L982.3,523.7 L984.1,524.1 L985.9,524.6 L987.7,525.0 L989.5,525.4 L991.3,525.8 L993.1,526.2 L995.0,526.7 L996.8,527.1 L998.6,527.5 L1000.4,527.9 L1002.2,528.3 L1004.0,528.7 L1005.8,529.1 L1007.6,529.5 L1009.4,529.9 L1011.2,530.3 L1013.1,530.7 L1014.9,531.1 L1016.7,531.5 L1018.5,531.9 L1020.3,532.3 L1022.1,532.7 L1023.9,533.0 L1025.8,533.4 L1027.6,533.8 L1029.4,534.2 L1031.2,534.5 L1033.0,534.9 L1034.8,535.3 L1036.7,535.7 L1038.5,536.0 L1040.3,536.4 L1042.1,536.8 L1043.9,537.1 L1045.8,537.5 L1047.6,537.8 L1049.4,538.2 L1051.2,538.6 L1053.1,538.9 L1054.9,539.3 L1056.7,539.6 L1058.5,540.0 L1060.4,540.3 L1062.2,540.7 L1064.0,541.0 L1065.8,541.3 L1067.7,541.7 L1069.5,542.0 L1071.3,542.4 L1073.1,542.7 L1075.0,543.0 L1076.8,543.4 L1078.6,543.7 L1080.5,544.0 L1082.3,544.3 L1084.1,544.7 L1086.0,545.0 L1087.8,545.3 L1089.6,545.6 L1091.5,546.0 L1093.3,546.3 L1095.1,546.6 L1097.0,546.9 L1098.8,547.2 L1100.6,547.5 L1102.5,547.8 L1104.3,548.1 L1106.1,548.4 L1108.0,548.7 L1109.8,549.0 L1111.6,549.3 L1113.5,549.6 L1115.3,549.9 L1117.1,550.2 L1119.0,550.5 L1120.8,550.8 L1122.7,551.1 L1124.5,551.4 L1126.3,551.7 L1128.2,552.0 L1130.0,552.3 L1131.9,552.5 L1133.7,552.8 L1135.5,553.1 L1137.4,553.4 L1139.2,553.7 L1141.1,553.9 L1142.9,554.2 L1144.7,554.5 L1146.6,554.8 L1148.4,555.0 L1150.3,555.3 L1152.1,555.6 L1154.0,555.8 L1155.8,556.1 L1157.6,556.4 L1159.5,556.6 L1161.3,556.9 L1163.2,557.2 L1165.0,557.4 L1166.9,557.7 L1168.7,557.9 L1170.6,558.2 L1172.4,558.4 L1174.2,558.7 L1176.1,558.9 L1177.9,559.2 L1179.8,559.4 L1181.6,559.7 L1183.5,559.9 L1185.3,560.2 L1187.2,560.4 L1189.0,560.7 L1190.9,560.9 L1192.7,561.1 L1194.6,561.4 L1196.4,561.6 L1198.3,561.8 L1200.1,562.1 L1202.0,562.3 L1203.8,562.5 L1205.7,562.8 L1207.5,563.0 L1209.4,563.2 L1211.2,563.5 L1213.1,563.7 L1214.9,563.9 L1216.8,564.1 L1218.6,564.4 L1220.5,564.6 L1222.3,564.8 L1224.2,565.0 L1226.0,565.2 L1227.9,565.5 L1229.7,565.7 L1231.6,565.9 L1233.4,566.1 L1235.3,566.3 L1237.1,566.5 L1239.0,566.7 L1240.8,567.0 L1242.7,567.2 L1244.5,567.4 L1246.4,567.6 L1248.2,567.8 L1250.1,568.0 L1251.9,568.2 L1253.8,568.4 L1255.7,568.6 L1257.5,568.8 L1259.4,569.0 L1261.2,569.2 L1263.1,569.4 L1264.9,569.6 L1266.8,569.8 L1268.6,570.0 L1270.5,570.2 L1272.3,570.4 L1274.2,570.6 L1276.0,570.8 L1277.9,570.9 L1279.7,571.1 L1281.6,571.3 L1283.4,571.5 L1285.3,571.7 L1287.2,571.9 L1289.0,572.1 L1290.9,572.3 L1292.7,572.4 L1294.6,572.6 L1296.4,572.8 L1298.3,573.0 L1300.1,573.2 L1302.0,573.3 L1303.8,573.5 L1305.7,573.7 L1307.5,573.9 L1309.4,574.1 L1311.3,574.2 L1313.1,574.4 L1315.0,574.6 L1316.8,574.8 L1318.7,574.9 L1320.5,575.1 L1322.4,575.3 L1324.2,575.4 L1326.1,575.6 L1327.9,575.8 L1329.8,575.9 L1331.6,576.1 L1333.5,576.3 L1335.3,576.4 L1337.2,576.6 L1339.0,576.8 L1340.9,576.9 L1342.8,577.1 L1344.6,577.3 L1346.5,577.4 L1348.3,577.6 L1350.2,577.8 L1352.0,577.9 L1353.9,578.1 L1355.7,578.2 L1357.6,578.4 L1359.4,578.6 L1361.3,578.7 L1363.1,578.9 L1365.0,579.0 L1366.8,579.2 L1368.7,579.3 L1370.5,579.5 L1372.4,579.7 L1374.2,579.8 L1376.1,580.0 L1377.9,580.1 L1379.8,580.3 L1381.6,580.4 L1383.5,580.6 L1385.3,580.7 L1387.2,580.9 L1389.0,581.0 L1390.9,581.2 L1392.7,581.3 L1394.6,581.5 L1396.4,581.6 L1398.3,581.8 L1400.1,581.9 L1402.0,582.1 L1403.8,582.2 L1405.7,582.4 L1407.5,582.5 L1409.4,582.6 L1411.2,582.8 L1413.1,582.9 L1414.9,583.1 L1416.7,583.2 L1418.6,583.4 L1420.4,583.5 L1422.3,583.7 L1424.1,583.8 L1426.0,583.9 L1427.8,584.1 L1429.7,584.2 L1431.5,584.4 L1433.4,584.5 L1435.2,584.7 L1437.0,584.8 L1438.9,584.9 L1440.7,585.1 L1442.6,585.2 L1444.4,585.4 L1446.3,585.5 L1448.1,585.6 L1449.9,585.8 L1451.8,585.9 L1453.6,586.1 L1455.5,586.2 L1457.3,586.3 L1459.1,586.5 L1461.0,586.6 L1462.8,586.8 L1464.7,586.9 L1466.5,587.0 L1468.3,587.2 L1470.2,587.3 L1472.0,587.4 L1473.9,587.6 L1475.7,587.7 L1477.5,587.9 L1479.4,588.0 L1481.2,588.1 L1483.0,588.3 L1484.9,588.4 L1486.7,588.5 L1488.5,588.7 L1490.4,588.8 L1492.2,588.9 L1494.1,589.1 L1495.9,589.2 L1497.7,589.4 L1499.6,589.5 L1501.4,589.6 L1503.2,589.8 L1505.0,589.9 L1506.9,590.0 L1508.7,590.2 L1510.5,590.3 L1512.4,590.5 L1514.2,590.6 L1516.0,590.7 L1517.9,590.9 L1519.7,591.0 L1521.5,591.1 L1523.3,591.3 L1525.2,591.4 L1527.0,591.6 L1528.8,591.7" stroke="#00ff00" stroke-width="4.2" stroke-dasharray="16 22.2" stroke-linecap="round" stroke-dashoffset="-2.1"/>
<path d="M293.2,329.2 L294.9,329.7 L296.6,330.3 L298.3,330.9 L300.0,331.5 L301.8,332.1 L303.5,332.7 L305.2,333.3 L306.9,333.9 L308.6,334.5 L310.3,335.1 L312.0,335.7 L313.8,336.3 L315.5,337.0 L317.2,337.6 L318.9,338.2 L320.6,338.8 L322.3,339.4 L324.0,340.0 L325.7,340.6 L327.4,341.2 L329.2,341.8 L330.9,342.5 L332.6,343.1 L334.3,343.7 L336.0,344.3 L337.7,344.9 L339.4,345.5 L341.1,346.2 L342.8,346.8 L344.5,347.4 L346.2,348.0 L348.0,348.7 L349.7,349.3 L351.4,349.9 L353.1,350.5 L354.8,351.2 L356.5,351.8 L358.2,352.4 L359.9,353.0 L361.6,353.7 L363.3,354.3 L365.0,354.9 L366.7,355.6 L368.4,356.2 L370.1,356.8 L371.8,357.5 L373.5,358.1 L375.2,358.7 L377.0,359.4 L378.7,360.0 L380.4,360.6 L382.1,361.3 L383.8,361.9 L385.5,362.5 L387.2,363.2 L388.9,363.8 L390.6,364.4 L392.3,365.1 L394.0,365.7 L395.7,366.4 L397.4,367.0 L399.1,367.6 L400.8,368.3 L402.5,368.9 L404.2,369.6 L405.9,370.2 L407.6,370.8 L409.3,371.5 L411.0,372.1 L412.7,372.8 L414.4,373.4 L416.1,374.0 L417.8,374.7 L419.5,375.3 L421.2,376.0 L422.9,376.6 L424.6,377.3 L426.3,377.9 L428.0,378.5 L429.7,379.2 L431.4,379.8 L433.1,380.5 L434.8,381.1 L436.5,381.8 L438.3,382.4 L440.0,383.1 L441.7,383.7 L443.4,384.3 L445.1,385.0 L446.8,385.6 L448.5,386.3 L450.2,386.9 L451.9,387.6 L453.6,388.2 L455.3,388.9 L457.0,389.5 L458.7,390.1 L460.4,390.8 L462.1,391.4 L463.8,392.1 L465.5,392.7 L467.2,393.4 L468.9,394.0 L470.6,394.6 L472.3,395.3 L474.0,395.9 L475.7,396.6 L477.4,397.2 L479.1,397.8 L480.8,398.5 L482.5,399.1 L484.2,399.8 L485.9,400.4 L487.6,401.0 L489.4,401.7 L491.1,402.3 L492.8,403.0 L494.5,403.6 L496.2,404.2 L497.9,404.9 L499.6,405.5 L501.3,406.2 L503.0,406.8 L504.7,407.4 L506.4,408.1 L508.1,408.7 L509.8,409.3 L511.5,410.0 L513.2,410.6 L514.9,411.2 L516.7,411.9 L518.4,412.5 L520.1,413.1 L521.8,413.7 L523.5,414.4 L525.2,415.0 L526.9,415.6 L528.6,416.3 L530.3,416.9 L532.0,417.5 L533.7,418.1 L535.5,418.8 L537.2,419.4 L538.9,420.0 L540.6,420.6 L542.3,421.3 L544.0,421.9 L545.7,422.5 L547.4,423.1 L549.2,423.7 L550.9,424.4 L552.6,425.0 L554.3,425.6 L556.0,426.2 L557.7,426.8 L559.4,427.4 L561.1,428.0 L562.9,428.7 L564.6,429.3 L566.3,429.9 L568.0,430.5 L569.7,431.1 L571.4,431.7 L573.2,432.3 L574.9,432.9 L576.6,433.5 L578.3,434.1 L580.0,434.7 L581.7,435.3 L583.5,436.0 L585.2,436.6 L586.9,437.2 L588.6,437.8 L590.3,438.4 L592.1,439.0 L593.8,439.6 L595.5,440.2 L597.2,440.7 L598.9,441.3 L600.7,441.9 L602.4,442.5 L604.1,443.1 L605.8,443.7 L607.5,444.3 L609.3,444.9 L611.0,445.5 L612.7,446.1 L614.4,446.7 L616.2,447.3 L617.9,447.8 L619.6,448.4 L621.3,449.0 L623.1,449.6 L624.8,450.2 L626.5,450.7 L628.2,451.3 L630.0,451.9 L631.7,452.5 L633.4,453.1 L635.1,453.6 L636.9,454.2 L638.6,454.8 L640.3,455.4 L642.0,455.9 L643.8,456.5 L645.5,457.1 L647.2,457.6 L649.0,458.2 L650.7,458.8 L652.4,459.3 L654.1,459.9 L655.9,460.5 L657.6,461.0 L659.3,461.6 L661.1,462.1 L662.8,462.7 L664.5,463.3 L666.3,463.8 L668.0,464.4 L669.7,464.9 L671.5,465.5 L673.2,466.0 L674.9,466.6 L676.7,467.1 L678.4,467.7 L680.1,468.2 L681.9,468.8 L683.6,469.3 L685.3,469.9 L687.1,470.4 L688.8,470.9 L690.6,471.5 L692.3,472.0 L694.0,472.6 L695.8,473.1 L697.5,473.6 L699.2,474.2 L701.0,474.7 L702.7,475.2 L704.5,475.8 L706.2,476.3 L707.9,476.8 L709.7,477.3 L711.4,477.9 L713.2,478.4 L714.9,478.9 L716.7,479.4 L718.4,480.0 L720.1,480.5 L721.9,481.0 L723.6,481.5 L725.4,482.0 L727.1,482.5 L728.9,483.1 L730.6,483.6 L732.4,484.1 L734.1,484.6 L735.8,485.1 L737.6,485.6 L739.3,486.1 L741.1,486.6 L742.8,487.1 L744.6,487.6 L746.3,488.1 L748.1,488.6 L749.8,489.1 L751.6,489.6 L753.3,490.1 L755.1,490.6 L756.8,491.1 L758.6,491.6 L760.3,492.0 L762.1,492.5 L763.8,493.0 L765.6,493.5 L767.3,494.0 L769.1,494.5 L770.8,494.9 L772.6,495.4 L774.4,495.9 L776.1,496.4 L777.9,496.8 L779.6,497.3 L781.4,497.8 L783.1,498.2 L784.9,498.7 L786.6,499.2 L788.4,499.6 L790.2,500.1 L791.9,500.6 L793.7,501.0 L795.4,501.5 L797.2,501.9 L799.0,502.4 L800.7,502.8 L802.5,503.3 L804.2,503.7 L806.0,504.2 L807.8,504.6 L809.5,505.1 L811.3,505.5 L813.0,506.0 L814.8,506.4 L816.6,506.8 L818.3,507.3 L820.1,507.7 L821.9,508.2 L823.6,508.6 L825.4,509.0 L827.2,509.4 L828.9,509.9 L830.7,510.3 L832.5,510.7 L834.2,511.1 L836.0,511.6 L837.8,512.0 L839.5,512.4 L841.3,512.8 L843.1,513.2 L844.8,513.6 L846.6,514.0 L848.4,514.5 L850.2,514.9 L851.9,515.3 L853.7,515.7 L855.5,516.1 L857.2,516.5 L859.0,516.9 L860.8,517.3 L862.6,517.7 L864.3,518.1 L866.1,518.5 L867.9,518.8 L869.7,519.2 L871.4,519.6 L873.2,520.0 L875.0,520.4 L876.8,520.8 L878.6,521.2 L880.3,521.5 L882.1,521.9 L883.9,522.3 L885.7,522.7 L887.4,523.0 L889.2,523.4 L891.0,523.8 L892.8,524.1 L894.6,524.5 L896.4,524.9 L898.1,525.2 L899.9,525.6 L901.7,526.0 L903.5,526.3 L905.3,526.7 L907.0,527.0 L908.8,527.4 L910.6,527.7 L912.4,528.1 L914.2,528.4 L916.0,528.8 L917.8,529.1 L919.5,529.5 L921.3,529.8 L923.1,530.2 L924.9,530.5 L926.7,530.9 L928.5,531.2 L930.3,531.5 L932.0,531.9 L933.8,532.2 L935.6,532.5 L937.4,532.9 L939.2,533.2 L941.0,533.5 L942.8,533.9 L944.6,534.2 L946.4,534.5 L948.2,534.8 L949.9,535.2 L951.7,535.5 L953.5,535.8 L955.3,536.1 L957.1,536.4 L958.9,536.7 L960.7,537.1 L962.5,537.4 L964.3,537.7 L966.1,538.0 L967.9,538.3 L969.7,538.6 L971.5,538.9 L973.2,539.2 L975.0,539.5 L976.8,539.8 L978.6,540.1 L980.4,540.4 L982.2,540.7 L984.0,541.0 L985.8,541.3 L987.6,541.6 L989.4,541.9 L991.2,542.2 L993.0,542.5 L994.8,542.8 L996.6,543.1 L998.4,543.4 L1000.2,543.7 L1002.0,543.9 L1003.8,544.2 L1005.6,544.5 L1007.4,544.8 L1009.2,545.1 L1011.0,545.4 L1012.8,545.6 L1014.6,545.9 L1016.4,546.2 L1018.2,546.5 L1020.0,546.7 L1021.8,547.0 L1023.6,547.3 L1025.4,547.6 L1027.2,547.8 L1029.0,548.1 L1030.8,548.4 L1032.6,548.6 L1034.4,548.9 L1036.2,549.2 L1038.0,549.4 L1039.8,549.7 L1041.6,549.9 L1043.4,550.2 L1045.2,550.5 L1047.0,550.7 L1048.8,551.0 L1050.6,551.2 L1052.4,551.5 L1054.2,551.7 L1056.0,552.0 L1057.8,552.2 L1059.6,552.5 L1061.4,552.8 L1063.2,553.0 L1065.0,553.2 L1066.8,553.5 L1068.6,553.7 L1070.5,554.0 L1072.3,554.2 L1074.1,554.5 L1075.9,554.7 L1077.7,555.0 L1079.5,555.2 L1081.3,555.4 L1083.1,555.7 L1084.9,555.9 L1086.7,556.2 L1088.5,556.4 L1090.3,556.6 L1092.1,556.9 L1093.9,557.1 L1095.7,557.3 L1097.5,557.6 L1099.3,557.8 L1101.2,558.0 L1103.0,558.2 L1104.8,558.5 L1106.6,558.7 L1108.4,558.9 L1110.2,559.2 L1112.0,559.4 L1113.8,559.6 L1115.6,559.8 L1117.4,560.0 L1119.2,560.3 L1121.0,560.5 L1122.8,560.7 L1124.7,560.9 L1126.5,561.1 L1128.3,561.4 L1130.1,561.6 L1131.9,561.8 L1133.7,562.0 L1135.5,562.2 L1137.3,562.4 L1139.1,562.7 L1140.9,562.9 L1142.7,563.1 L1144.5,563.3 L1146.4,563.5 L1148.2,563.7 L1150.0,563.9 L1151.8,564.1 L1153.6,564.3 L1155.4,564.5 L1157.2,564.7 L1159.0,565.0 L1160.8,565.2 L1162.6,565.4 L1164.4,565.6 L1166.3,565.8 L1168.1,566.0 L1169.9,566.2 L1171.7,566.4 L1173.5,566.6 L1175.3,566.8 L1177.1,567.0 L1178.9,567.2 L1180.7,567.4 L1182.5,567.6 L1184.4,567.7 L1186.2,567.9 L1188.0,568.1 L1189.8,568.3 L1191.6,568.5 L1193.4,568.7 L1195.2,568.9 L1197.0,569.1 L1198.8,569.3 L1200.6,569.5 L1202.5,569.7 L1204.3,569.8 L1206.1,570.0 L1207.9,570.2 L1209.7,570.4 L1211.5,570.6 L1213.3,570.8 L1215.1,571.0 L1216.9,571.1 L1218.8,571.3 L1220.6,571.5 L1222.4,571.7 L1224.2,571.9 L1226.0,572.0 L1227.8,572.2 L1229.6,572.4 L1231.4,572.6 L1233.2,572.8 L1235.1,572.9 L1236.9,573.1 L1238.7,573.3 L1240.5,573.5 L1242.3,573.6 L1244.1,573.8 L1245.9,574.0 L1247.7,574.1 L1249.5,574.3 L1251.4,574.5 L1253.2,574.7 L1255.0,574.8 L1256.8,575.0 L1258.6,575.2 L1260.4,575.3 L1262.2,575.5 L1264.0,575.7 L1265.9,575.8 L1267.7,576.0 L1269.5,576.1 L1271.3,576.3 L1273.1,576.5 L1274.9,576.6 L1276.7,576.8 L1278.5,577.0 L1280.4,577.1 L1282.2,577.3 L1284.0,577.4 L1285.8,577.6 L1287.6,577.7 L1289.4,577.9 L1291.2,578.1 L1293.0,578.2 L1294.9,578.4 L1296.7,578.5 L1298.5,578.7 L1300.3,578.8 L1302.1,579.0 L1303.9,579.1 L1305.7,579.3 L1307.6,579.4 L1309.4,579.6 L1311.2,579.7 L1313.0,579.9 L1314.8,580.0 L1316.6,580.2 L1318.4,580.3 L1320.2,580.5 L1322.1,580.6 L1323.9,580.8 L1325.7,580.9 L1327.5,581.1 L1329.3,581.2 L1331.1,581.3 L1332.9,581.5 L1334.8,581.6 L1336.6,581.8 L1338.4,581.9 L1340.2,582.1 L1342.0,582.2 L1343.8,582.3 L1345.6,582.5 L1347.5,582.6 L1349.3,582.8 L1351.1,582.9 L1352.9,583.0 L1354.7,583.2 L1356.5,583.3 L1358.3,583.4 L1360.2,583.6 L1362.0,583.7 L1363.8,583.8 L1365.6,584.0 L1367.4,584.1 L1369.2,584.2 L1371.0,584.4 L1372.9,584.5 L1374.7,584.6 L1376.5,584.8 L1378.3,584.9 L1380.1,585.0 L1381.9,585.1 L1383.7,585.3 L1385.6,585.4 L1387.4,585.5 L1389.2,585.6 L1391.0,585.8 L1392.8,585.9 L1394.6,586.0 L1396.4,586.1 L1398.3,586.3 L1400.1,586.4 L1401.9,586.5 L1403.7,586.6 L1405.5,586.8 L1407.3,586.9 L1409.1,587.0 L1411.0,587.1 L1412.8,587.2 L1414.6,587.4 L1416.4,587.5 L1418.2,587.6 L1420.0,587.7 L1421.9,587.8 L1423.7,588.0 L1425.5,588.1 L1427.3,588.2 L1429.1,588.3 L1430.9,588.4 L1432.7,588.5 L1434.6,588.6 L1436.4,588.8 L1438.2,588.9 L1440.0,589.0 L1441.8,589.1 L1443.6,589.2 L1445.5,589.3 L1447.3,589.4 L1449.1,589.5 L1450.9,589.6 L1452.7,589.8 L1454.5,589.9 L1456.3,590.0 L1458.2,590.1 L1460.0,590.2 L1461.8,590.3 L1463.6,590.4 L1465.4,590.5 L1467.2,590.6 L1469.1,590.7 L1470.9,590.8 L1472.7,590.9 L1474.5,591.0 L1476.3,591.1 L1478.1,591.2 L1479.9,591.3 L1481.8,591.4 L1483.6,591.5 L1485.4,591.6 L1487.2,591.7 L1489.0,591.9 L1490.8,592.0 L1492.7,592.1 L1494.5,592.2 L1496.3,592.2 L1498.1,592.3 L1499.9,592.4 L1501.7,592.5 L1503.6,592.6 L1505.4,592.7 L1507.2,592.8 L1509.0,592.9 L1510.8,593.0 L1512.6,593.1 L1514.4,593.2 L1516.3,593.3 L1518.1,593.4 L1519.9,593.5 L1521.7,593.6 L1523.5,593.7 L1525.3,593.8 L1527.2,593.9 L1529.0,594.0" stroke="#8000ff" stroke-width="6.0" stroke-dasharray="26.5 17.8 3.5 17.8" stroke-linecap="round" stroke-dashoffset="-3"/>
<path d="M293.8,429.0 L295.6,429.3 L297.3,429.6 L299.1,429.9 L300.9,430.2 L302.6,430.5 L304.4,430.8 L306.1,431.1 L307.9,431.4 L309.7,431.7 L311.4,432.0 L313.2,432.3 L314.9,432.6 L316.7,432.9 L318.5,433.2 L320.2,433.5 L322.0,433.8 L323.7,434.1 L325.5,434.4 L327.3,434.7 L329.0,435.0 L330.8,435.3 L332.6,435.6 L334.3,435.9 L336.1,436.1 L337.8,436.4 L339.6,436.7 L341.4,437.0 L343.1,437.3 L344.9,437.6 L346.6,437.9 L348.4,438.2 L350.2,438.5 L351.9,438.8 L353.7,439.1 L355.5,439.4 L357.2,439.7 L359.0,439.9 L360.7,440.2 L362.5,440.5 L364.3,440.8 L366.0,441.1 L367.8,441.4 L369.6,441.7 L371.3,442.0 L373.1,442.3 L374.8,442.6 L376.6,442.9 L378.4,443.2 L380.1,443.5 L381.9,443.8 L383.6,444.1 L385.4,444.4 L387.2,444.7 L388.9,445.0 L390.7,445.3 L392.5,445.6 L394.2,445.9 L396.0,446.2 L397.7,446.5 L399.5,446.9 L401.2,447.2 L403.0,447.5 L404.8,447.8 L406.5,448.1 L408.3,448.4 L410.0,448.7 L411.8,449.1 L413.6,449.4 L415.3,449.7 L417.1,450.0 L418.8,450.3 L420.6,450.7 L422.3,451.0 L424.1,451.3 L425.9,451.6 L427.6,452.0 L429.4,452.3 L431.1,452.6 L432.9,453.0 L434.6,453.3 L436.4,453.7 L438.1,454.0 L439.9,454.3 L441.6,454.7 L443.4,455.0 L445.1,455.4 L446.9,455.7 L448.6,456.1 L450.4,456.4 L452.1,456.8 L453.9,457.2 L455.6,457.5 L457.4,457.9 L459.1,458.2 L460.9,458.6 L462.6,459.0 L464.4,459.4 L466.1,459.7 L467.9,460.1 L469.6,460.5 L471.4,460.9 L473.1,461.3 L474.9,461.6 L476.6,462.0 L478.3,462.4 L480.1,462.8 L481.8,463.2 L483.6,463.6 L485.3,464.0 L487.1,464.4 L488.8,464.8 L490.5,465.2 L492.3,465.6 L494.0,466.0 L495.8,466.4 L497.5,466.8 L499.2,467.2 L501.0,467.7 L502.7,468.1 L504.5,468.5 L506.2,468.9 L507.9,469.3 L509.7,469.7 L511.4,470.1 L513.2,470.5 L514.9,470.9 L516.6,471.4 L518.4,471.8 L520.1,472.2 L521.8,472.6 L523.6,473.0 L525.3,473.4 L527.1,473.8 L528.8,474.2 L530.5,474.7 L532.3,475.1 L534.0,475.5 L535.8,475.9 L537.5,476.3 L539.2,476.7 L541.0,477.1 L542.7,477.5 L544.5,477.9 L546.2,478.3 L547.9,478.7 L549.7,479.1 L551.4,479.5 L553.2,479.9 L554.9,480.3 L556.6,480.7 L558.4,481.1 L560.1,481.5 L561.9,481.8 L563.6,482.2 L565.4,482.6 L567.1,483.0 L568.9,483.4 L570.6,483.8 L572.3,484.2 L574.1,484.5 L575.8,484.9 L577.6,485.3 L579.3,485.7 L581.1,486.1 L582.8,486.4 L584.6,486.8 L586.3,487.2 L588.0,487.5 L589.8,487.9 L591.5,488.3 L593.3,488.7 L595.0,489.0 L596.8,489.4 L598.5,489.8 L600.3,490.1 L602.0,490.5 L603.8,490.9 L605.5,491.2 L607.3,491.6 L609.0,491.9 L610.8,492.3 L612.5,492.7 L614.3,493.0 L616.0,493.4 L617.8,493.7 L619.5,494.1 L621.3,494.4 L623.0,494.8 L624.8,495.1 L626.5,495.5 L628.3,495.8 L630.0,496.2 L631.8,496.5 L633.5,496.9 L635.3,497.2 L637.0,497.6 L638.8,497.9 L640.5,498.3 L642.3,498.6 L644.0,498.9 L645.8,499.3 L647.5,499.6 L649.3,500.0 L651.0,500.3 L652.8,500.6 L654.5,501.0 L656.3,501.3 L658.0,501.6 L659.8,502.0 L661.6,502.3 L663.3,502.6 L665.1,503.0 L666.8,503.3 L668.6,503.6 L670.3,504.0 L672.1,504.3 L673.8,504.6 L675.6,505.0 L677.3,505.3 L679.1,505.6 L680.9,505.9 L682.6,506.3 L684.4,506.6 L686.1,506.9 L687.9,507.2 L689.6,507.5 L691.4,507.9 L693.1,508.2 L694.9,508.5 L696.7,508.8 L698.4,509.1 L700.2,509.5 L701.9,509.8 L703.7,510.1 L705.4,510.4 L707.2,510.7 L709.0,511.1 L710.7,511.4 L712.5,511.7 L714.2,512.0 L716.0,512.3 L717.7,512.6 L719.5,512.9 L721.3,513.2 L723.0,513.6 L724.8,513.9 L726.5,514.2 L728.3,514.5 L730.1,514.8 L731.8,515.1 L733.6,515.4 L735.3,515.7 L737.1,516.0 L738.9,516.3 L740.6,516.6 L742.4,516.9 L744.1,517.3 L745.9,517.6 L747.6,517.9 L749.4,518.2 L751.2,518.5 L752.9,518.8 L754.7,519.1 L756.4,519.4 L758.2,519.7 L760.0,520.0 L761.7,520.3 L763.5,520.6 L765.3,520.9 L767.0,521.2 L768.8,521.5 L770.5,521.8 L772.3,522.1 L774.1,522.4 L775.8,522.7 L777.6,523.0 L779.3,523.3 L781.1,523.6 L782.9,523.9 L784.6,524.2 L786.4,524.4 L788.1,524.7 L789.9,525.0 L791.7,525.3 L793.4,525.6 L795.2,525.9 L797.0,526.2 L798.7,526.5 L800.5,526.8 L802.2,527.1 L804.0,527.4 L805.8,527.7 L807.5,527.9 L809.3,528.2 L811.1,528.5 L812.8,528.8 L814.6,529.1 L816.4,529.4 L818.1,529.7 L819.9,530.0 L821.6,530.2 L823.4,530.5 L825.2,530.8 L826.9,531.1 L828.7,531.4 L830.5,531.7 L832.2,531.9 L834.0,532.2 L835.8,532.5 L837.5,532.8 L839.3,533.1 L841.0,533.3 L842.8,533.6 L844.6,533.9 L846.3,534.2 L848.1,534.5 L849.9,534.7 L851.6,535.0 L853.4,535.3 L855.2,535.6 L856.9,535.8 L858.7,536.1 L860.5,536.4 L862.2,536.6 L864.0,536.9 L865.8,537.2 L867.5,537.5 L869.3,537.7 L871.1,538.0 L872.8,538.3 L874.6,538.5 L876.4,538.8 L878.1,539.1 L879.9,539.3 L881.7,539.6 L883.4,539.9 L885.2,540.1 L887.0,540.4 L888.7,540.7 L890.5,540.9 L892.3,541.2 L894.0,541.5 L895.8,541.7 L897.6,542.0 L899.3,542.2 L901.1,542.5 L902.9,542.8 L904.6,543.0 L906.4,543.3 L908.2,543.5 L909.9,543.8 L911.7,544.0 L913.5,544.3 L915.2,544.6 L917.0,544.8 L918.8,545.1 L920.6,545.3 L922.3,545.6 L924.1,545.8 L925.9,546.1 L927.6,546.3 L929.4,546.6 L931.2,546.8 L932.9,547.1 L934.7,547.3 L936.5,547.6 L938.2,547.8 L940.0,548.1 L941.8,548.3 L943.6,548.5 L945.3,548.8 L947.1,549.0 L948.9,549.3 L950.6,549.5 L952.4,549.8 L954.2,550.0 L955.9,550.2 L957.7,550.5 L959.5,550.7 L961.3,551.0 L963.0,551.2 L964.8,551.4 L966.6,551.7 L968.3,551.9 L970.1,552.1 L971.9,552.4 L973.7,552.6 L975.4,552.8 L977.2,553.1 L979.0,553.3 L980.7,553.5 L982.5,553.8 L984.3,554.0 L986.1,554.2 L987.8,554.4 L989.6,554.7 L991.4,554.9 L993.1,555.1 L994.9,555.3 L996.7,555.6 L998.5,555.8 L1000.2,556.0 L1002.0,556.2 L1003.8,556.5 L1005.5,556.7 L1007.3,556.9 L1009.1,557.1 L1010.9,557.3 L1012.6,557.6 L1014.4,557.8 L1016.2,558.0 L1018.0,558.2 L1019.7,558.4 L1021.5,558.6 L1023.3,558.8 L1025.1,559.1 L1026.8,559.3 L1028.6,559.5 L1030.4,559.7 L1032.1,559.9 L1033.9,560.1 L1035.7,560.3 L1037.5,560.5 L1039.2,560.7 L1041.0,560.9 L1042.8,561.1 L1044.6,561.3 L1046.3,561.6 L1048.1,561.8 L1049.9,562.0 L1051.7,562.2 L1053.4,562.4 L1055.2,562.6 L1057.0,562.8 L1058.8,563.0 L1060.5,563.2 L1062.3,563.3 L1064.1,563.5 L1065.9,563.7 L1067.6,563.9 L1069.4,564.1 L1071.2,564.3 L1073.0,564.5 L1074.7,564.7 L1076.5,564.9 L1078.3,565.1 L1080.1,565.3 L1081.8,565.5 L1083.6,565.6 L1085.4,565.8 L1087.2,566.0 L1089.0,566.2 L1090.7,566.4 L1092.5,566.6 L1094.3,566.8 L1096.1,566.9 L1097.8,567.1 L1099.6,567.3 L1101.4,567.5 L1103.2,567.7 L1104.9,567.8 L1106.7,568.0 L1108.5,568.2 L1110.3,568.4 L1112.0,568.5 L1113.8,568.7 L1115.6,568.9 L1117.4,569.1 L1119.2,569.2 L1120.9,569.4 L1122.7,569.6 L1124.5,569.7 L1126.3,569.9 L1128.0,570.1 L1129.8,570.2 L1131.6,570.4 L1133.4,570.6 L1135.2,570.7 L1136.9,570.9 L1138.7,571.1 L1140.5,571.2 L1142.3,571.4 L1144.1,571.6 L1145.8,571.7 L1147.6,571.9 L1149.4,572.0 L1151.2,572.2 L1152.9,572.4 L1154.7,572.5 L1156.5,572.7 L1158.3,572.8 L1160.1,573.0 L1161.8,573.1 L1163.6,573.3 L1165.4,573.4 L1167.2,573.6 L1169.0,573.8 L1170.7,573.9 L1172.5,574.1 L1174.3,574.2 L1176.1,574.4 L1177.9,574.5 L1179.6,574.7 L1181.4,574.8 L1183.2,575.0 L1185.0,575.1 L1186.8,575.2 L1188.5,575.4 L1190.3,575.5 L1192.1,575.7 L1193.9,575.8 L1195.7,576.0 L1197.4,576.1 L1199.2,576.3 L1201.0,576.4 L1202.8,576.5 L1204.6,576.7 L1206.3,576.8 L1208.1,577.0 L1209.9,577.1 L1211.7,577.2 L1213.5,577.4 L1215.2,577.5 L1217.0,577.7 L1218.8,577.8 L1220.6,577.9 L1222.4,578.1 L1224.1,578.2 L1225.9,578.3 L1227.7,578.5 L1229.5,578.6 L1231.3,578.7 L1233.0,578.9 L1234.8,579.0 L1236.6,579.1 L1238.4,579.3 L1240.2,579.4 L1242.0,579.5 L1243.7,579.7 L1245.5,579.8 L1247.3,579.9 L1249.1,580.0 L1250.9,580.2 L1252.6,580.3 L1254.4,580.4 L1256.2,580.6 L1258.0,580.7 L1259.8,580.8 L1261.5,580.9 L1263.3,581.1 L1265.1,581.2 L1266.9,581.3 L1268.7,581.4 L1270.5,581.5 L1272.2,581.7 L1274.0,581.8 L1275.8,581.9 L1277.6,582.0 L1279.4,582.2 L1281.1,582.3 L1282.9,582.4 L1284.7,582.5 L1286.5,582.6 L1288.3,582.8 L1290.1,582.9 L1291.8,583.0 L1293.6,583.1 L1295.4,583.2 L1297.2,583.4 L1299.0,583.5 L1300.8,583.6 L1302.5,583.7 L1304.3,583.8 L1306.1,583.9 L1307.9,584.1 L1309.7,584.2 L1311.4,584.3 L1313.2,584.4 L1315.0,584.5 L1316.8,584.6 L1318.6,584.7 L1320.4,584.9 L1322.1,585.0 L1323.9,585.1 L1325.7,585.2 L1327.5,585.3 L1329.3,585.4 L1331.1,585.5 L1332.8,585.6 L1334.6,585.7 L1336.4,585.9 L1338.2,586.0 L1340.0,586.1 L1341.8,586.2 L1343.5,586.3 L1345.3,586.4 L1347.1,586.5 L1348.9,586.6 L1350.7,586.7 L1352.5,586.8 L1354.2,586.9 L1356.0,587.1 L1357.8,587.2 L1359.6,587.3 L1361.4,587.4 L1363.2,587.5 L1364.9,587.6 L1366.7,587.7 L1368.5,587.8 L1370.3,587.9 L1372.1,588.0 L1373.9,588.1 L1375.6,588.2 L1377.4,588.3 L1379.2,588.4 L1381.0,588.5 L1382.8,588.6 L1384.6,588.8 L1386.3,588.9 L1388.1,589.0 L1389.9,589.1 L1391.7,589.2 L1393.5,589.3 L1395.3,589.4 L1397.0,589.5 L1398.8,589.6 L1400.6,589.7 L1402.4,589.8 L1404.2,589.9 L1406.0,590.0 L1407.7,590.1 L1409.5,590.2 L1411.3,590.3 L1413.1,590.4 L1414.9,590.5 L1416.7,590.6 L1418.4,590.7 L1420.2,590.8 L1422.0,590.9 L1423.8,591.0 L1425.6,591.1 L1427.4,591.2 L1429.1,591.3 L1430.9,591.4 L1432.7,591.5 L1434.5,591.6 L1436.3,591.7 L1438.1,591.8 L1439.8,591.9 L1441.6,592.0 L1443.4,592.1 L1445.2,592.2 L1447.0,592.3 L1448.8,592.4 L1450.5,592.5 L1452.3,592.6 L1454.1,592.7 L1455.9,592.8 L1457.7,592.9 L1459.5,593.0 L1461.2,593.1 L1463.0,593.2 L1464.8,593.3 L1466.6,593.4 L1468.4,593.5 L1470.2,593.6 L1471.9,593.7 L1473.7,593.8 L1475.5,593.9 L1477.3,594.0 L1479.1,594.1 L1480.9,594.2 L1482.6,594.3 L1484.4,594.4 L1486.2,594.5 L1488.0,594.6 L1489.8,594.7 L1491.6,594.8 L1493.3,594.9 L1495.1,595.1 L1496.9,595.2 L1498.7,595.3 L1500.5,595.4 L1502.3,595.5 L1504.0,595.6 L1505.8,595.7 L1507.6,595.8 L1509.4,595.9 L1511.2,596.0 L1513.0,596.1 L1514.7,596.2 L1516.5,596.3 L1518.3,596.4 L1520.1,596.5 L1521.9,596.6 L1523.7,596.7 L1525.4,596.8 L1527.2,596.9 L1529.0,597.0" stroke="#00ffff" stroke-width="4.2" stroke-dasharray="19.5 12.85 2.3 12.85" stroke-linecap="round" stroke-dashoffset="-2.1"/>
</g>
<rect x="661.9" y="21.6" width="388.3" height="95.8" fill="#fff" stroke="#333" stroke-width="1.8"/>
<text class="it" x="688.5" y="92.7" font-size="57">R=0.01; Γ=50</text>
<rect x="883.0" y="213.7" width="308.5" height="88.5" fill="#fff" stroke="#333" stroke-width="1.8"/>
<text class="it" x="906.8" y="276.9" font-size="57.4">upper plate</text>
<rect x="190.2" y="847.1" width="305.8" height="88.5" fill="#fff" stroke="#333" stroke-width="1.8"/>
<text class="it" x="213" y="910.1" font-size="57.5">lower plate</text>
<line x1="962.3" y1="300.8" x2="641.1" y2="357.6" stroke="#111" stroke-width="1.4"/>
<polygon points="616.0,362.0 639.8,350.4 642.4,364.7" fill="#000"/>
<line x1="962.3" y1="300.8" x2="750.2" y2="422.0" stroke="#111" stroke-width="1.4"/>
<polygon points="728.1,434.6 746.6,415.7 753.8,428.2" fill="#000"/>
<line x1="962.3" y1="300.8" x2="782.8" y2="472.9" stroke="#111" stroke-width="1.4"/>
<polygon points="764.4,490.6 777.8,467.7 787.8,478.2" fill="#000"/>
<line x1="962.3" y1="300.8" x2="832.2" y2="507.7" stroke="#111" stroke-width="1.4"/>
<polygon points="818.6,529.3 826.0,503.9 838.3,511.6" fill="#000"/>
<line x1="338.5" y1="846.6" x2="392.2" y2="701.6" stroke="#111" stroke-width="1.4"/>
<polygon points="401.0,677.7 398.9,704.1 385.4,699.1" fill="#000"/>
<line x1="338.5" y1="846.6" x2="531.6" y2="678.1" stroke="#111" stroke-width="1.4"/>
<polygon points="550.8,661.3 536.4,683.5 526.8,672.6" fill="#000"/>
<line x1="321.7" y1="936.6" x2="433.1" y2="1008.0" stroke="#111" stroke-width="1.4"/>
<polygon points="454.6,1021.8 429.2,1014.1 437.0,1001.9" fill="#000"/>
<line x1="321.7" y1="936.6" x2="365.1" y2="1103.2" stroke="#111" stroke-width="1.4"/>
<polygon points="371.5,1127.9 358.1,1105.0 372.1,1101.4" fill="#000"/>
<rect x="998.7" y="929.8" width="530.7" height="285.9" fill="#fff" stroke="#555" stroke-width="2.0"/>
<path d="M1024.00,973.6 H1155.50" stroke="#000" stroke-width="5.5" fill="none"/>
<path d="M1195.60,973.6 H1327.30" stroke="#008000" stroke-width="5.5" fill="none"/>
<text class="rm" x="1168" y="994.9" font-size="57">;</text>
<text class="it" x="1338" y="993.9" font-size="57">K=0.01</text>
<path d="M1027.00,1043.6 H1152.80" stroke="#ff0000" stroke-width="6.0" fill="none" stroke-dasharray="20.5 31.85" stroke-linecap="round"/>
<path d="M1196.60,1043.6 H1324.90" stroke="#00ff00" stroke-width="4.2" fill="none" stroke-dasharray="16 22.2" stroke-linecap="round"/>
<text class="rm" x="1168" y="1064.2" font-size="57">;</text>
<text class="it" x="1338" y="1063.2" font-size="57">K=0.1</text>
<path d="M1027.00,1113.3 H1152.50" stroke="#0000ff" stroke-width="6.0" fill="none" stroke-dasharray="4.5 26.6" stroke-linecap="round"/>
<path d="M1197.50,1113.3 H1310.90" stroke="#8000ff" stroke-width="6.0" fill="none" stroke-dasharray="26.5 17.8 3.5 17.8" stroke-linecap="round"/>
<text class="rm" x="1168" y="1134.2" font-size="57">;</text>
<text class="it" x="1338" y="1133.2" font-size="57">K=1</text>
<path d="M1027.00,1182.6 H1140.00" stroke="#ff00ff" stroke-width="6.0" fill="none" stroke-dasharray="26.5 17.7 3.5 17.75" stroke-linecap="round"/>
<path d="M1196.60,1182.6 H1311.10" stroke="#00ffff" stroke-width="4.2" fill="none" stroke-dasharray="19.5 12.85 2.3 12.85" stroke-linecap="round"/>
<text class="rm" x="1168" y="1203.0" font-size="57">;</text>
<text class="it" x="1338" y="1202.0" font-size="57">K=2</text>
<g stroke="#000" stroke-width="4.1" fill="none">
<path d="M160.3,144.9 H1531.5"/>
<path d="M160.3,1215.7 H1531.5"/>
<path d="M183.1,142.2 V1238.8"/>
<path d="M1529.4,142.2 V1238.8"/>
</g><g stroke="#000" stroke-width="3.6" fill="none">
<path d="M160.3,1037.1 H183.1"/>
<path d="M160.3,858.6 H183.1"/>
<path d="M160.3,680.0 H183.1"/>
<path d="M160.3,501.4 H183.1"/>
<path d="M160.3,322.9 H183.1"/>
<path d="M170.2,1126.4 H183.1"/>
<path d="M170.2,947.9 H183.1"/>
<path d="M170.2,769.3 H183.1"/>
<path d="M170.2,590.7 H183.1"/>
<path d="M170.2,412.2 H183.1"/>
<path d="M170.2,233.6 H183.1"/>
<path d="M407.5,1215.7 V1238.8"/>
<path d="M631.9,1215.7 V1238.8"/>
<path d="M856.3,1215.7 V1238.8"/>
<path d="M1080.6,1215.7 V1238.8"/>
<path d="M1305.0,1215.7 V1238.8"/>
<path d="M295.3,1215.7 V1228"/>
<path d="M519.7,1215.7 V1228"/>
<path d="M744.1,1215.7 V1228"/>
<path d="M968.4,1215.7 V1228"/>
<path d="M1192.8,1215.7 V1228"/>
<path d="M1417.2,1215.7 V1228"/>
</g>
<text x="147.6" y="1230.2" font-size="46.6" text-anchor="end">-12</text>
<text x="147.6" y="1051.6" font-size="46.6" text-anchor="end">-8</text>
<text x="147.6" y="873.1" font-size="46.6" text-anchor="end">-4</text>
<text x="147.6" y="694.5" font-size="46.6" text-anchor="end">0</text>
<text x="147.6" y="515.9" font-size="46.6" text-anchor="end">4</text>
<text x="147.6" y="337.4" font-size="46.6" text-anchor="end">8</text>
<text x="147.6" y="158.8" font-size="46.6" text-anchor="end">12</text>
<text x="183.1" y="1287.6" font-size="46.6" text-anchor="middle">0</text>
<text x="407.5" y="1287.6" font-size="46.6" text-anchor="middle">2</text>
<text x="631.9" y="1287.6" font-size="46.6" text-anchor="middle">4</text>
<text x="856.3" y="1287.6" font-size="46.6" text-anchor="middle">6</text>
<text x="1080.6" y="1287.6" font-size="46.6" text-anchor="middle">8</text>
<text x="1305.0" y="1287.6" font-size="46.6" text-anchor="middle">10</text>
<text x="1529.4" y="1287.6" font-size="46.6" text-anchor="middle">12</text>
<text class="it" x="17" y="328" font-size="57">Nu</text>
<text class="it" x="867.5" y="1355.3" font-size="57.6">Ha</text>
</svg></body></html>
